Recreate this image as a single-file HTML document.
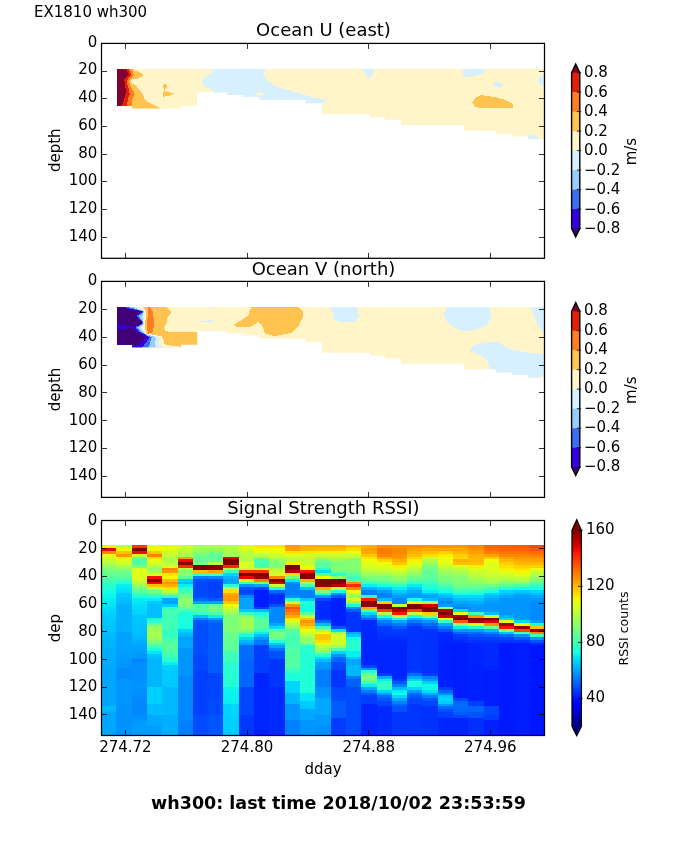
<!DOCTYPE html>
<html lang="en"><head><meta charset="utf-8"><title>EX1810 wh300</title>
<style>
html,body{margin:0;padding:0;background:#fff;}
body{width:675px;height:855px;overflow:hidden;}
svg text{font-family:'DejaVu Sans','Liberation Sans',sans-serif;fill:#000;}
</style></head><body>
<svg width="675" height="855" viewBox="0 0 675 855" style="display:block">
<rect width="675" height="855" fill="#fff"/>
<defs>
<clipPath id="c1"><polygon points="117.0,68.9 544.5,68.9 544.5,139.2 528.2,139.2 528.2,136.4 512.0,136.4 512.0,133.8 496.0,133.8 496.0,130.7 464.0,130.7 464.0,125.2 401.1,125.2 401.1,119.8 384.8,119.8 384.8,117.2 370.1,117.2 370.1,114.2 321.9,114.2 321.9,103.3 306.0,103.3 306.0,100.1 259.3,100.1 259.3,97.0 243.0,97.0 243.0,95.0 227.0,95.0 227.0,92.3 197.2,92.3 197.2,106.1 181.1,106.1 181.1,108.6 132.2,108.6 132.2,106.1 117.0,106.1"/></clipPath>
<clipPath id="c2"><polygon points="117.0,307.0 544.5,307.0 544.5,377.8 528.2,377.8 528.2,375.0 512.0,375.0 512.0,372.4 496.0,372.4 496.0,369.3 464.0,369.3 464.0,363.8 401.1,363.8 401.1,358.4 384.8,358.4 384.8,355.8 370.1,355.8 370.1,352.8 321.9,352.8 321.9,341.9 306.0,341.9 306.0,338.7 259.3,338.7 259.3,335.6 243.0,335.6 243.0,333.6 227.0,333.6 227.0,330.9 197.2,330.9 197.2,344.7 181.1,344.7 181.1,347.2 132.2,347.2 132.2,344.7 117.0,344.7"/></clipPath>
<clipPath id="c3"><rect x="101.5" y="520.5" width="443.0" height="215.0"/></clipPath>
</defs>
<g clip-path="url(#c1)" shape-rendering="crispEdges">
<rect x="110" y="60" width="440" height="90" fill="#fff5c8"/>
<polygon points="207.0,68.9 214.4,71.1 212.2,73.3 206.3,76.3 202.6,79.3 202.1,82.2 203.3,85.2 206.3,87.0 210.0,88.9 213.0,90.4 213.0,91.9 213.0,106.0 321.9,106.0 321.9,103.0 327.0,100.3 327.0,99.3 320.4,98.5 311.5,97.0 299.6,93.3 289.3,90.4 278.9,87.4 273.0,84.4 270.0,82.2 267.0,80.0 265.3,77.8 264.1,74.8 264.4,72.6 266.3,68.9" fill="#d7f0ff" />
<polygon points="255.2,95.1 258.9,91.9 262.9,93.3 262.9,95.1" fill="#fff5c8" />
<polygon points="361.9,68.9 375.9,68.9 369.3,79.0" fill="#d7f0ff" />
<polygon points="462.8,69.0 484.0,69.0 486.0,71.4 479.1,74.7 466.9,77.6 463.3,76.3" fill="#d7f0ff" />
<polygon points="493.0,84.1 497.0,80.9 502.7,84.4 500.3,87.4 494.6,86.9" fill="#d7f0ff" />
<polygon points="545.1,73.0 541.0,76.3 537.8,80.9 541.0,84.4 545.1,88.5" fill="#d7f0ff" />
<polygon points="526.0,135.2 532.7,135.2 536.2,136.2 539.8,138.9 539.8,140.2 528.2,140.2 528.2,136.7" fill="#d7f0ff" />
<polygon points="472.1,102.7 475.0,98.3 480.7,95.0 495.4,97.2 505.2,99.9 512.5,104.0 512.5,107.8 480.7,108.4 475.0,106.4" fill="#ffc450" />
<ellipse cx="165.0" cy="86.4" rx="2.0" ry="2.4" fill="#ffc450"/>
<polygon points="164.2,88.2 165.4,88.2 165.4,92.2 164.2,92.2" fill="#ffc450" />
<polygon points="163.1,92.0 166.2,91.4 169.8,92.3 173.5,93.4 173.5,94.1 170.2,95.3 167.1,96.3 163.1,96.8" fill="#ffc450" />
<polygon points="147.9,85.8 149.0,85.8 149.0,88.8 147.9,88.8" fill="#d7f0ff" />
<polygon points="147.9,92.8 150.0,92.8 150.0,93.9 147.9,93.9" fill="#d7f0ff" />
<polygon points="116.9,68.9 132.9,68.9 136.0,70.9 140.4,72.5 142.9,74.0 142.7,76.2 138.7,78.4 132.0,79.3 130.7,80.7 132.0,83.8 136.0,85.1 137.8,88.7 141.3,91.3 144.0,97.6 144.9,100.2 150.2,102.9 155.6,105.6 160.9,108.4 160.9,111.8 116.9,111.8" fill="#ffc450" />
<polygon points="116.9,68.9 131.1,68.9 132.9,71.8 133.8,74.9 132.0,77.6 129.8,79.3 128.9,81.1 130.2,85.1 132.0,88.7 134.2,92.7 134.7,94.4 132.9,97.6 132.0,101.1 131.7,111.8 116.9,111.8" fill="#ff7d22" />
<polygon points="116.9,68.9 128.4,68.9 130.2,71.8 131.1,74.9 129.3,77.1 126.7,80.7 127.6,85.1 128.9,89.6 129.8,94.0 128.4,97.6 127.6,101.1 126.7,106.0 126.7,111.8 116.9,111.8" fill="#e4200a" />
<polygon points="116.9,68.9 125.8,68.9 126.7,70.9 128.9,74.4 126.7,76.7 124.0,79.8 125.3,85.1 125.8,91.3 125.3,95.8 124.0,99.3 123.1,102.9 120.9,106.0 120.9,111.8 116.9,111.8" fill="#80002f" />
</g>
<g clip-path="url(#c2)" shape-rendering="crispEdges">
<rect x="110" y="298" width="440" height="90" fill="#fff5c8"/>
<polygon points="116.9,306.9 166.7,306.9 170.7,311.1 170.7,313.8 166.7,318.7 166.7,322.2 164.0,328.4 165.3,330.7 168.9,331.8 197.5,331.8 197.5,344.9 180.9,344.9 180.9,347.5 178.7,347.5 178.7,345.8 170.7,345.8 170.7,349.0 116.9,349.0" fill="#ffc450" />
<polygon points="148.0,306.9 149.3,307.1 153.3,311.6 153.8,326.7 152.4,332.9 148.0,333.8 147.1,328.4 147.6,316.0" fill="#ff7d22" />
<polygon points="116.9,306.9 143.1,306.9 145.3,309.8 146.2,314.2 145.3,322.2 145.3,329.3 146.2,333.8 153.8,334.8 161.8,336.4 163.6,340.0 164.4,344.4 170.7,344.9 170.7,348.0 116.9,348.0" fill="#fff5c8" />
<polygon points="116.9,306.9 136.9,306.9 143.1,310.2 144.9,312.0 143.6,316.0 144.0,322.2 142.2,326.7 143.1,330.2 145.8,333.6 154.7,335.6 158.7,337.3 158.7,344.7 162.7,345.8 163.1,348.0 116.9,348.0" fill="#d7f0ff" />
<polygon points="116.9,306.9 132.0,306.9 142.7,310.7 144.0,312.0 142.2,316.4 143.1,321.3 143.6,323.6 139.6,327.6 142.2,331.1 147.6,335.1 153.8,336.4 156.0,338.7 154.7,342.7 156.0,348.0 116.9,348.0" fill="#96cdfa" />
<polygon points="116.9,306.9 128.0,306.9 142.2,310.9 143.3,312.0 138.7,316.2 142.7,321.3 142.9,323.6 137.3,327.4 140.4,331.6 147.6,335.6 151.6,337.3 150.2,341.8 148.9,348.0 116.9,348.0" fill="#3c6ef5" />
<polygon points="116.9,306.9 124.4,306.9 128.4,308.4 142.2,311.1 142.7,311.7 136.4,316.0 142.0,321.2 142.4,323.6 135.3,327.1 138.7,331.1 147.1,336.0 149.3,338.2 144.9,343.6 141.8,348.0 116.9,348.0" fill="#3200e1" />
<polygon points="116.9,306.9 124.0,306.9 128.0,308.9 141.8,311.3 135.1,316.0 141.3,321.1 141.8,323.6 133.3,326.7 120.9,324.9 116.9,321.8" fill="#400078" />
<polygon points="116.9,329.3 125.3,328.6 132.4,328.0 137.8,332.0 146.7,338.2 141.3,340.9 137.8,344.7 116.9,344.7" fill="#400078" />
<polygon points="251.8,306.9 298.0,306.9 302.4,310.4 303.3,315.8 298.9,325.6 291.8,332.7 274.9,336.2 265.1,333.6 262.4,326.4 258.0,322.0 250.0,327.3 236.7,327.3 234.0,324.7 248.2,315.8 250.0,309.6" fill="#ffc450" />
<polygon points="329.8,306.9 356.4,306.9 359.1,315.8 354.7,321.6 338.7,321.6 332.4,318.4 333.3,314.0" fill="#d7f0ff" />
<polygon points="446.9,306.9 487.8,306.9 491.3,314.0 491.3,319.3 485.1,326.4 474.4,330.0 464.7,331.4 454.9,328.2 446.9,322.0 443.3,314.0" fill="#d7f0ff" />
<polygon points="530.4,306.9 545.6,306.9 545.6,336.2 536.7,322.9 533.1,313.1" fill="#d7f0ff" />
<polygon points="470.0,348.7 476.2,344.2 490.4,341.6 498.4,341.6 502.9,345.1 511.8,349.6 529.6,352.8 545.6,354.0 545.6,381.6 489.6,381.6 489.6,368.6 486.9,360.2 479.8,354.9 470.9,351.3" fill="#d7f0ff" />
<polygon points="536.7,378.4 545.6,374.4 545.6,381.6 536.7,381.6" fill="#fff5c8" />
<polygon points="208.0,306.9 213.8,306.9 211.6,308.4" fill="#d7f0ff" />
<polygon points="200.0,321.3 208.0,320.4 213.3,320.4 215.1,321.8 200.0,321.9" fill="#d7f0ff" />
</g>
<g clip-path="url(#c3)" shape-rendering="crispEdges">
<rect x="101" y="545" width="15" height="3" fill="#fdef00"/>
<rect x="101" y="548" width="15" height="3" fill="#eb0300"/>
<rect x="101" y="551" width="15" height="3" fill="#ff8600"/>
<rect x="101" y="554" width="15" height="3" fill="#e4ff13"/>
<rect x="101" y="557" width="15" height="2" fill="#d4ff23"/>
<rect x="101" y="559" width="15" height="3" fill="#c5ff32"/>
<rect x="101" y="562" width="15" height="3" fill="#adff4a"/>
<rect x="101" y="565" width="15" height="3" fill="#92ff65"/>
<rect x="101" y="568" width="15" height="2" fill="#82ff75"/>
<rect x="101" y="570" width="15" height="3" fill="#72ff85"/>
<rect x="101" y="573" width="15" height="3" fill="#64ff93"/>
<rect x="101" y="576" width="15" height="3" fill="#55ffa1"/>
<rect x="101" y="579" width="15" height="3" fill="#47ffb0"/>
<rect x="101" y="582" width="15" height="2" fill="#38ffbf"/>
<rect x="101" y="584" width="15" height="3" fill="#28ffcf"/>
<rect x="101" y="587" width="15" height="3" fill="#1effd9"/>
<rect x="101" y="590" width="15" height="3" fill="#14ffe2"/>
<rect x="101" y="593" width="15" height="2" fill="#10f9e7"/>
<rect x="101" y="595" width="15" height="3" fill="#0cf4eb"/>
<rect x="101" y="598" width="15" height="3" fill="#07efef"/>
<rect x="101" y="601" width="15" height="3" fill="#03e9f4"/>
<rect x="101" y="604" width="15" height="3" fill="#00e4f8"/>
<rect x="101" y="607" width="15" height="2" fill="#00dffc"/>
<rect x="101" y="609" width="15" height="3" fill="#00d7ff"/>
<rect x="101" y="612" width="15" height="3" fill="#00d0ff"/>
<rect x="101" y="615" width="15" height="3" fill="#00ceff"/>
<rect x="101" y="618" width="15" height="2" fill="#00cbff"/>
<rect x="101" y="620" width="15" height="3" fill="#00c8ff"/>
<rect x="101" y="623" width="15" height="3" fill="#00c5ff"/>
<rect x="101" y="626" width="15" height="3" fill="#00c3ff"/>
<rect x="101" y="629" width="15" height="3" fill="#00c0ff"/>
<rect x="101" y="632" width="15" height="2" fill="#00bdff"/>
<rect x="101" y="634" width="15" height="3" fill="#00bbff"/>
<rect x="101" y="637" width="15" height="3" fill="#00b8ff"/>
<rect x="101" y="640" width="15" height="3" fill="#00b5ff"/>
<rect x="101" y="643" width="15" height="2" fill="#00b3ff"/>
<rect x="101" y="645" width="15" height="3" fill="#00b2ff"/>
<rect x="101" y="648" width="15" height="3" fill="#00b0ff"/>
<rect x="101" y="651" width="15" height="3" fill="#00afff"/>
<rect x="101" y="654" width="15" height="3" fill="#00aeff"/>
<rect x="101" y="657" width="15" height="2" fill="#00acff"/>
<rect x="101" y="659" width="15" height="3" fill="#00abff"/>
<rect x="101" y="662" width="15" height="3" fill="#00aaff"/>
<rect x="101" y="665" width="15" height="3" fill="#00a8ff"/>
<rect x="101" y="668" width="15" height="2" fill="#00a7ff"/>
<rect x="101" y="670" width="15" height="36" fill="#00a6ff"/>
<rect x="101" y="706" width="15" height="3" fill="#00bdff"/>
<rect x="101" y="709" width="15" height="3" fill="#00b6ff"/>
<rect x="101" y="712" width="15" height="25" fill="#00a6ff"/>
<rect x="116" y="545" width="16" height="3" fill="#bfff38"/>
<rect x="116" y="548" width="16" height="3" fill="#f6f600"/>
<rect x="116" y="551" width="16" height="3" fill="#ffc000"/>
<rect x="116" y="554" width="16" height="3" fill="#ff9400"/>
<rect x="116" y="557" width="16" height="2" fill="#fdef00"/>
<rect x="116" y="559" width="16" height="3" fill="#d7ff20"/>
<rect x="116" y="562" width="16" height="3" fill="#d1ff26"/>
<rect x="116" y="565" width="16" height="3" fill="#a6ff51"/>
<rect x="116" y="568" width="16" height="2" fill="#8cff6b"/>
<rect x="116" y="570" width="16" height="3" fill="#72ff85"/>
<rect x="116" y="573" width="16" height="3" fill="#66ff91"/>
<rect x="116" y="576" width="16" height="3" fill="#59ff9d"/>
<rect x="116" y="579" width="16" height="3" fill="#3bffbc"/>
<rect x="116" y="582" width="16" height="2" fill="#21ffd6"/>
<rect x="116" y="584" width="16" height="3" fill="#07efef"/>
<rect x="116" y="587" width="16" height="3" fill="#01e7f6"/>
<rect x="116" y="590" width="16" height="3" fill="#00dffc"/>
<rect x="116" y="593" width="16" height="2" fill="#00caff"/>
<rect x="116" y="595" width="16" height="3" fill="#00c5ff"/>
<rect x="116" y="598" width="16" height="3" fill="#00c1ff"/>
<rect x="116" y="601" width="16" height="3" fill="#00bdff"/>
<rect x="116" y="604" width="16" height="28" fill="#00b0ff"/>
<rect x="116" y="632" width="16" height="22" fill="#00a2ff"/>
<rect x="116" y="654" width="16" height="3" fill="#009eff"/>
<rect x="116" y="657" width="16" height="2" fill="#0099ff"/>
<rect x="116" y="659" width="16" height="3" fill="#0098ff"/>
<rect x="116" y="662" width="16" height="3" fill="#0096ff"/>
<rect x="116" y="665" width="16" height="3" fill="#0095ff"/>
<rect x="116" y="668" width="16" height="11" fill="#008bff"/>
<rect x="116" y="679" width="16" height="14" fill="#0095ff"/>
<rect x="116" y="693" width="16" height="16" fill="#0094ff"/>
<rect x="116" y="709" width="16" height="17" fill="#0093ff"/>
<rect x="116" y="726" width="16" height="11" fill="#0092ff"/>
<rect x="132" y="545" width="15" height="3" fill="#ff3500"/>
<rect x="132" y="548" width="15" height="3" fill="#800000"/>
<rect x="132" y="551" width="15" height="3" fill="#f30900"/>
<rect x="132" y="554" width="15" height="3" fill="#bfff38"/>
<rect x="132" y="557" width="15" height="2" fill="#60ff97"/>
<rect x="132" y="559" width="15" height="6" fill="#4dffaa"/>
<rect x="132" y="565" width="15" height="3" fill="#7eff78"/>
<rect x="132" y="568" width="15" height="2" fill="#d7ff20"/>
<rect x="132" y="570" width="15" height="9" fill="#ddff19"/>
<rect x="132" y="579" width="15" height="3" fill="#d1ff26"/>
<rect x="132" y="582" width="15" height="2" fill="#b9ff3e"/>
<rect x="132" y="584" width="15" height="3" fill="#99ff5e"/>
<rect x="132" y="587" width="15" height="3" fill="#78ff7f"/>
<rect x="132" y="590" width="15" height="3" fill="#56ffa0"/>
<rect x="132" y="593" width="15" height="2" fill="#34ffc2"/>
<rect x="132" y="595" width="15" height="3" fill="#1effd9"/>
<rect x="132" y="598" width="15" height="3" fill="#07efef"/>
<rect x="132" y="601" width="15" height="3" fill="#01e7f6"/>
<rect x="132" y="604" width="15" height="3" fill="#00dffc"/>
<rect x="132" y="607" width="15" height="2" fill="#00dbff"/>
<rect x="132" y="609" width="15" height="3" fill="#00d7ff"/>
<rect x="132" y="612" width="15" height="3" fill="#00d4ff"/>
<rect x="132" y="615" width="15" height="3" fill="#00c7ff"/>
<rect x="132" y="618" width="15" height="2" fill="#00c5ff"/>
<rect x="132" y="620" width="15" height="3" fill="#00c4ff"/>
<rect x="132" y="623" width="15" height="3" fill="#00c2ff"/>
<rect x="132" y="626" width="15" height="3" fill="#00c1ff"/>
<rect x="132" y="629" width="15" height="3" fill="#00c0ff"/>
<rect x="132" y="632" width="15" height="2" fill="#00beff"/>
<rect x="132" y="634" width="15" height="3" fill="#00bdff"/>
<rect x="132" y="637" width="15" height="3" fill="#00b6ff"/>
<rect x="132" y="640" width="15" height="3" fill="#00b0ff"/>
<rect x="132" y="643" width="15" height="2" fill="#00a9ff"/>
<rect x="132" y="645" width="15" height="3" fill="#00a5ff"/>
<rect x="132" y="648" width="15" height="3" fill="#00a1ff"/>
<rect x="132" y="651" width="15" height="3" fill="#009dff"/>
<rect x="132" y="654" width="15" height="3" fill="#0099ff"/>
<rect x="132" y="657" width="15" height="2" fill="#0095ff"/>
<rect x="132" y="659" width="15" height="3" fill="#0081ff"/>
<rect x="132" y="662" width="15" height="17" fill="#008fff"/>
<rect x="132" y="679" width="15" height="2" fill="#0091ff"/>
<rect x="132" y="681" width="15" height="3" fill="#0093ff"/>
<rect x="132" y="684" width="15" height="3" fill="#0095ff"/>
<rect x="132" y="687" width="15" height="3" fill="#0093ff"/>
<rect x="132" y="690" width="15" height="3" fill="#0090ff"/>
<rect x="132" y="693" width="15" height="2" fill="#008dff"/>
<rect x="132" y="695" width="15" height="3" fill="#008bff"/>
<rect x="132" y="698" width="15" height="17" fill="#0088ff"/>
<rect x="132" y="715" width="15" height="3" fill="#008dff"/>
<rect x="132" y="718" width="15" height="2" fill="#0092ff"/>
<rect x="132" y="720" width="15" height="3" fill="#0097ff"/>
<rect x="132" y="723" width="15" height="14" fill="#009cff"/>
<rect x="147" y="545" width="15" height="3" fill="#e4ff13"/>
<rect x="147" y="548" width="15" height="3" fill="#f6f600"/>
<rect x="147" y="551" width="15" height="3" fill="#ffc700"/>
<rect x="147" y="554" width="15" height="3" fill="#ff8000"/>
<rect x="147" y="557" width="15" height="2" fill="#ffd700"/>
<rect x="147" y="559" width="15" height="3" fill="#eaff0d"/>
<rect x="147" y="562" width="15" height="3" fill="#d1ff26"/>
<rect x="147" y="565" width="15" height="3" fill="#b3ff44"/>
<rect x="147" y="568" width="15" height="2" fill="#8cff6b"/>
<rect x="147" y="570" width="15" height="3" fill="#9fff57"/>
<rect x="147" y="573" width="15" height="3" fill="#d7ff20"/>
<rect x="147" y="576" width="15" height="3" fill="#fa0f00"/>
<rect x="147" y="579" width="15" height="3" fill="#800000"/>
<rect x="147" y="582" width="15" height="2" fill="#f30900"/>
<rect x="147" y="584" width="15" height="3" fill="#ffc000"/>
<rect x="147" y="587" width="15" height="3" fill="#bfff38"/>
<rect x="147" y="590" width="15" height="3" fill="#78ff7f"/>
<rect x="147" y="593" width="15" height="2" fill="#4dffaa"/>
<rect x="147" y="595" width="15" height="3" fill="#28ffcf"/>
<rect x="147" y="598" width="15" height="3" fill="#07efef"/>
<rect x="147" y="601" width="15" height="3" fill="#00caff"/>
<rect x="147" y="604" width="15" height="3" fill="#00c0ff"/>
<rect x="147" y="607" width="15" height="2" fill="#00bfff"/>
<rect x="147" y="609" width="15" height="6" fill="#00beff"/>
<rect x="147" y="615" width="15" height="3" fill="#00bdff"/>
<rect x="147" y="618" width="15" height="2" fill="#14ffe2"/>
<rect x="147" y="620" width="15" height="3" fill="#34ffc2"/>
<rect x="147" y="623" width="15" height="3" fill="#6cff8b"/>
<rect x="147" y="626" width="15" height="3" fill="#99ff5e"/>
<rect x="147" y="629" width="15" height="3" fill="#9fff57"/>
<rect x="147" y="632" width="15" height="2" fill="#a6ff51"/>
<rect x="147" y="634" width="15" height="3" fill="#a3ff54"/>
<rect x="147" y="637" width="15" height="3" fill="#9fff57"/>
<rect x="147" y="640" width="15" height="3" fill="#7eff78"/>
<rect x="147" y="643" width="15" height="2" fill="#66ff91"/>
<rect x="147" y="645" width="15" height="3" fill="#3bffbc"/>
<rect x="147" y="648" width="15" height="3" fill="#1bffdc"/>
<rect x="147" y="651" width="15" height="3" fill="#01e7f6"/>
<rect x="147" y="654" width="15" height="3" fill="#00c3ff"/>
<rect x="147" y="657" width="15" height="2" fill="#00bdff"/>
<rect x="147" y="659" width="15" height="28" fill="#00b6ff"/>
<rect x="147" y="687" width="15" height="17" fill="#00d0ff"/>
<rect x="147" y="704" width="15" height="11" fill="#00bdff"/>
<rect x="147" y="715" width="15" height="11" fill="#00a9ff"/>
<rect x="147" y="726" width="15" height="11" fill="#009cff"/>
<rect x="162" y="545" width="16" height="3" fill="#ddff19"/>
<rect x="162" y="548" width="16" height="3" fill="#e4ff13"/>
<rect x="162" y="551" width="16" height="3" fill="#cbff2c"/>
<rect x="162" y="554" width="16" height="3" fill="#bfff38"/>
<rect x="162" y="557" width="16" height="5" fill="#adff4a"/>
<rect x="162" y="562" width="16" height="3" fill="#b9ff3e"/>
<rect x="162" y="565" width="16" height="3" fill="#d7ff20"/>
<rect x="162" y="568" width="16" height="2" fill="#ff8600"/>
<rect x="162" y="570" width="16" height="3" fill="#ff9400"/>
<rect x="162" y="573" width="16" height="3" fill="#ffe700"/>
<rect x="162" y="576" width="16" height="3" fill="#f6f600"/>
<rect x="162" y="579" width="16" height="3" fill="#ffb800"/>
<rect x="162" y="582" width="16" height="2" fill="#ff9400"/>
<rect x="162" y="584" width="16" height="3" fill="#ffb100"/>
<rect x="162" y="587" width="16" height="3" fill="#ffe700"/>
<rect x="162" y="590" width="16" height="3" fill="#bfff38"/>
<rect x="162" y="593" width="16" height="2" fill="#78ff7f"/>
<rect x="162" y="595" width="16" height="3" fill="#28ffcf"/>
<rect x="162" y="598" width="16" height="3" fill="#00a9ff"/>
<rect x="162" y="601" width="16" height="3" fill="#00a2ff"/>
<rect x="162" y="604" width="16" height="3" fill="#00d0ff"/>
<rect x="162" y="607" width="16" height="2" fill="#28ffcf"/>
<rect x="162" y="609" width="16" height="6" fill="#47ffb0"/>
<rect x="162" y="615" width="16" height="14" fill="#41ffb6"/>
<rect x="162" y="629" width="16" height="8" fill="#34ffc2"/>
<rect x="162" y="637" width="16" height="3" fill="#47ffb0"/>
<rect x="162" y="640" width="16" height="3" fill="#4dffaa"/>
<rect x="162" y="643" width="16" height="8" fill="#59ff9d"/>
<rect x="162" y="651" width="16" height="6" fill="#47ffb0"/>
<rect x="162" y="657" width="16" height="5" fill="#28ffcf"/>
<rect x="162" y="662" width="16" height="3" fill="#07efef"/>
<rect x="162" y="665" width="16" height="5" fill="#00d0ff"/>
<rect x="162" y="670" width="16" height="17" fill="#00caff"/>
<rect x="162" y="687" width="16" height="28" fill="#00b9ff"/>
<rect x="162" y="715" width="16" height="22" fill="#00b0ff"/>
<rect x="178" y="545" width="15" height="3" fill="#cbff2c"/>
<rect x="178" y="548" width="15" height="3" fill="#bfff38"/>
<rect x="178" y="551" width="15" height="3" fill="#b3ff44"/>
<rect x="178" y="554" width="15" height="3" fill="#a6ff51"/>
<rect x="178" y="557" width="15" height="2" fill="#ffa200"/>
<rect x="178" y="559" width="15" height="3" fill="#f30900"/>
<rect x="178" y="562" width="15" height="3" fill="#900000"/>
<rect x="178" y="565" width="15" height="3" fill="#ff2a00"/>
<rect x="178" y="568" width="15" height="2" fill="#b3ff44"/>
<rect x="178" y="570" width="15" height="3" fill="#7eff78"/>
<rect x="178" y="573" width="15" height="3" fill="#8cff6b"/>
<rect x="178" y="576" width="15" height="3" fill="#59ff9d"/>
<rect x="178" y="579" width="15" height="3" fill="#00d7ff"/>
<rect x="178" y="582" width="15" height="2" fill="#00bdff"/>
<rect x="178" y="584" width="15" height="3" fill="#07efef"/>
<rect x="178" y="587" width="15" height="3" fill="#28ffcf"/>
<rect x="178" y="590" width="15" height="3" fill="#47ffb0"/>
<rect x="178" y="593" width="15" height="2" fill="#60ff97"/>
<rect x="178" y="595" width="15" height="3" fill="#72ff85"/>
<rect x="178" y="598" width="15" height="6" fill="#8cff6b"/>
<rect x="178" y="604" width="15" height="3" fill="#85ff72"/>
<rect x="178" y="607" width="15" height="2" fill="#6cff8b"/>
<rect x="178" y="609" width="15" height="3" fill="#41ffb6"/>
<rect x="178" y="612" width="15" height="11" fill="#1bffdc"/>
<rect x="178" y="623" width="15" height="6" fill="#14ffe2"/>
<rect x="178" y="629" width="15" height="3" fill="#00d7ff"/>
<rect x="178" y="632" width="15" height="2" fill="#00c3ff"/>
<rect x="178" y="634" width="15" height="3" fill="#00b6ff"/>
<rect x="178" y="637" width="15" height="3" fill="#00a2ff"/>
<rect x="178" y="640" width="15" height="3" fill="#00a6ff"/>
<rect x="178" y="643" width="15" height="5" fill="#00a9ff"/>
<rect x="178" y="648" width="15" height="28" fill="#0095ff"/>
<rect x="178" y="676" width="15" height="44" fill="#0088ff"/>
<rect x="178" y="720" width="15" height="3" fill="#0083ff"/>
<rect x="178" y="723" width="15" height="14" fill="#007eff"/>
<rect x="193" y="545" width="15" height="3" fill="#adff4a"/>
<rect x="193" y="548" width="15" height="3" fill="#99ff5e"/>
<rect x="193" y="551" width="15" height="3" fill="#85ff72"/>
<rect x="193" y="554" width="15" height="3" fill="#72ff85"/>
<rect x="193" y="557" width="15" height="5" fill="#60ff97"/>
<rect x="193" y="562" width="15" height="3" fill="#78ff7f"/>
<rect x="193" y="565" width="15" height="5" fill="#800000"/>
<rect x="193" y="570" width="15" height="3" fill="#ffc000"/>
<rect x="193" y="573" width="15" height="3" fill="#3bffbc"/>
<rect x="193" y="576" width="15" height="3" fill="#0081ff"/>
<rect x="193" y="579" width="15" height="3" fill="#004fff"/>
<rect x="193" y="582" width="15" height="13" fill="#0048ff"/>
<rect x="193" y="595" width="15" height="3" fill="#004fff"/>
<rect x="193" y="598" width="15" height="3" fill="#0066ff"/>
<rect x="193" y="601" width="15" height="3" fill="#00a2ff"/>
<rect x="193" y="604" width="15" height="3" fill="#47ffb0"/>
<rect x="193" y="607" width="15" height="2" fill="#59ff9d"/>
<rect x="193" y="609" width="15" height="3" fill="#4dffaa"/>
<rect x="193" y="612" width="15" height="3" fill="#34ffc2"/>
<rect x="193" y="615" width="15" height="3" fill="#00c3ff"/>
<rect x="193" y="618" width="15" height="2" fill="#0081ff"/>
<rect x="193" y="620" width="15" height="3" fill="#0059ff"/>
<rect x="193" y="623" width="15" height="31" fill="#004fff"/>
<rect x="193" y="654" width="15" height="16" fill="#0048ff"/>
<rect x="193" y="670" width="15" height="45" fill="#0041ff"/>
<rect x="193" y="715" width="15" height="22" fill="#004bff"/>
<rect x="208" y="545" width="15" height="3" fill="#adff4a"/>
<rect x="208" y="548" width="15" height="3" fill="#8cff6b"/>
<rect x="208" y="551" width="15" height="3" fill="#72ff85"/>
<rect x="208" y="554" width="15" height="8" fill="#60ff97"/>
<rect x="208" y="562" width="15" height="3" fill="#b3ff44"/>
<rect x="208" y="565" width="15" height="3" fill="#800000"/>
<rect x="208" y="568" width="15" height="2" fill="#900000"/>
<rect x="208" y="570" width="15" height="3" fill="#ffa200"/>
<rect x="208" y="573" width="15" height="3" fill="#47ffb0"/>
<rect x="208" y="576" width="15" height="3" fill="#0088ff"/>
<rect x="208" y="579" width="15" height="3" fill="#0048ff"/>
<rect x="208" y="582" width="15" height="16" fill="#0041ff"/>
<rect x="208" y="598" width="15" height="3" fill="#0059ff"/>
<rect x="208" y="601" width="15" height="3" fill="#00a2ff"/>
<rect x="208" y="604" width="15" height="3" fill="#60ff97"/>
<rect x="208" y="607" width="15" height="5" fill="#72ff85"/>
<rect x="208" y="612" width="15" height="3" fill="#4dffaa"/>
<rect x="208" y="615" width="15" height="3" fill="#07efef"/>
<rect x="208" y="618" width="15" height="2" fill="#009cff"/>
<rect x="208" y="620" width="15" height="3" fill="#006dff"/>
<rect x="208" y="623" width="15" height="50" fill="#005cff"/>
<rect x="208" y="673" width="15" height="28" fill="#0045ff"/>
<rect x="208" y="701" width="15" height="14" fill="#004bff"/>
<rect x="208" y="715" width="15" height="22" fill="#0055ff"/>
<rect x="223" y="545" width="16" height="6" fill="#b3ff44"/>
<rect x="223" y="551" width="16" height="6" fill="#9fff57"/>
<rect x="223" y="557" width="16" height="2" fill="#e30000"/>
<rect x="223" y="559" width="16" height="6" fill="#800000"/>
<rect x="223" y="565" width="16" height="3" fill="#ff2a00"/>
<rect x="223" y="568" width="16" height="2" fill="#b3ff44"/>
<rect x="223" y="570" width="16" height="3" fill="#3bffbc"/>
<rect x="223" y="573" width="16" height="3" fill="#00d7ff"/>
<rect x="223" y="576" width="16" height="3" fill="#00b6ff"/>
<rect x="223" y="579" width="16" height="3" fill="#00a2ff"/>
<rect x="223" y="582" width="16" height="2" fill="#00a9ff"/>
<rect x="223" y="584" width="16" height="3" fill="#28ffcf"/>
<rect x="223" y="587" width="16" height="3" fill="#b3ff44"/>
<rect x="223" y="590" width="16" height="3" fill="#ffdf00"/>
<rect x="223" y="593" width="16" height="2" fill="#ffaa00"/>
<rect x="223" y="595" width="16" height="6" fill="#ff9b00"/>
<rect x="223" y="601" width="16" height="3" fill="#ffc700"/>
<rect x="223" y="604" width="16" height="3" fill="#eaff0d"/>
<rect x="223" y="607" width="16" height="2" fill="#d1ff26"/>
<rect x="223" y="609" width="16" height="3" fill="#b3ff44"/>
<rect x="223" y="612" width="16" height="3" fill="#99ff5e"/>
<rect x="223" y="615" width="16" height="17" fill="#7eff78"/>
<rect x="223" y="632" width="16" height="2" fill="#6cff8b"/>
<rect x="223" y="634" width="16" height="3" fill="#69ff8e"/>
<rect x="223" y="637" width="16" height="3" fill="#66ff91"/>
<rect x="223" y="640" width="16" height="3" fill="#63ff94"/>
<rect x="223" y="643" width="16" height="8" fill="#60ff97"/>
<rect x="223" y="651" width="16" height="3" fill="#41ffb6"/>
<rect x="223" y="654" width="16" height="3" fill="#3fffb8"/>
<rect x="223" y="657" width="16" height="2" fill="#3dffba"/>
<rect x="223" y="659" width="16" height="3" fill="#3bffbc"/>
<rect x="223" y="662" width="16" height="3" fill="#28ffcf"/>
<rect x="223" y="665" width="16" height="3" fill="#27ffd0"/>
<rect x="223" y="668" width="16" height="2" fill="#26ffd1"/>
<rect x="223" y="670" width="16" height="3" fill="#25ffd2"/>
<rect x="223" y="673" width="16" height="3" fill="#24ffd2"/>
<rect x="223" y="676" width="16" height="3" fill="#24ffd3"/>
<rect x="223" y="679" width="16" height="2" fill="#23ffd4"/>
<rect x="223" y="681" width="16" height="3" fill="#22ffd5"/>
<rect x="223" y="684" width="16" height="3" fill="#21ffd6"/>
<rect x="223" y="687" width="16" height="3" fill="#0ef7e9"/>
<rect x="223" y="690" width="16" height="3" fill="#0df5ea"/>
<rect x="223" y="693" width="16" height="2" fill="#0bf4eb"/>
<rect x="223" y="695" width="16" height="3" fill="#0af2ed"/>
<rect x="223" y="698" width="16" height="3" fill="#09f0ee"/>
<rect x="223" y="701" width="16" height="3" fill="#07efef"/>
<rect x="223" y="704" width="16" height="2" fill="#00d7ff"/>
<rect x="223" y="706" width="16" height="3" fill="#00d6ff"/>
<rect x="223" y="709" width="16" height="3" fill="#00d5ff"/>
<rect x="223" y="712" width="16" height="3" fill="#00d4ff"/>
<rect x="223" y="715" width="16" height="3" fill="#00d3ff"/>
<rect x="223" y="718" width="16" height="2" fill="#00d2ff"/>
<rect x="223" y="720" width="16" height="3" fill="#00d1ff"/>
<rect x="223" y="723" width="16" height="3" fill="#00d0ff"/>
<rect x="223" y="726" width="16" height="3" fill="#00cfff"/>
<rect x="223" y="729" width="16" height="2" fill="#00ceff"/>
<rect x="223" y="731" width="16" height="6" fill="#00cdff"/>
<rect x="239" y="545" width="15" height="3" fill="#ddff19"/>
<rect x="239" y="548" width="15" height="3" fill="#d1ff26"/>
<rect x="239" y="551" width="15" height="3" fill="#bfff38"/>
<rect x="239" y="554" width="15" height="8" fill="#b3ff44"/>
<rect x="239" y="562" width="15" height="3" fill="#ddff19"/>
<rect x="239" y="565" width="15" height="3" fill="#d7ff20"/>
<rect x="239" y="568" width="15" height="2" fill="#bfff38"/>
<rect x="239" y="570" width="15" height="3" fill="#ff3500"/>
<rect x="239" y="573" width="15" height="3" fill="#800000"/>
<rect x="239" y="576" width="15" height="3" fill="#eb0300"/>
<rect x="239" y="579" width="15" height="3" fill="#fdef00"/>
<rect x="239" y="582" width="15" height="2" fill="#47ffb0"/>
<rect x="239" y="584" width="15" height="3" fill="#0095ff"/>
<rect x="239" y="587" width="15" height="3" fill="#0052ff"/>
<rect x="239" y="590" width="15" height="3" fill="#0045ff"/>
<rect x="239" y="593" width="15" height="2" fill="#0052ff"/>
<rect x="239" y="595" width="15" height="3" fill="#0088ff"/>
<rect x="239" y="598" width="15" height="11" fill="#00a2ff"/>
<rect x="239" y="609" width="15" height="3" fill="#00caff"/>
<rect x="239" y="612" width="15" height="3" fill="#3bffbc"/>
<rect x="239" y="615" width="15" height="3" fill="#8cff6b"/>
<rect x="239" y="618" width="15" height="11" fill="#9fff57"/>
<rect x="239" y="629" width="15" height="3" fill="#85ff72"/>
<rect x="239" y="632" width="15" height="2" fill="#59ff9d"/>
<rect x="239" y="634" width="15" height="3" fill="#1bffdc"/>
<rect x="239" y="637" width="15" height="3" fill="#00d7ff"/>
<rect x="239" y="640" width="15" height="3" fill="#00b6ff"/>
<rect x="239" y="643" width="15" height="2" fill="#00a2ff"/>
<rect x="239" y="645" width="15" height="14" fill="#006dff"/>
<rect x="239" y="659" width="15" height="28" fill="#0066ff"/>
<rect x="239" y="687" width="15" height="28" fill="#0045ff"/>
<rect x="239" y="715" width="15" height="22" fill="#0037ff"/>
<rect x="254" y="545" width="15" height="3" fill="#ffe700"/>
<rect x="254" y="548" width="15" height="3" fill="#f6f600"/>
<rect x="254" y="551" width="15" height="3" fill="#ddff19"/>
<rect x="254" y="554" width="15" height="3" fill="#bfff38"/>
<rect x="254" y="557" width="15" height="2" fill="#72ff85"/>
<rect x="254" y="559" width="15" height="6" fill="#47ffb0"/>
<rect x="254" y="565" width="15" height="3" fill="#4dffaa"/>
<rect x="254" y="568" width="15" height="2" fill="#bfff38"/>
<rect x="254" y="570" width="15" height="3" fill="#ff3500"/>
<rect x="254" y="573" width="15" height="3" fill="#800000"/>
<rect x="254" y="576" width="15" height="3" fill="#980000"/>
<rect x="254" y="579" width="15" height="3" fill="#ff8000"/>
<rect x="254" y="582" width="15" height="2" fill="#7eff78"/>
<rect x="254" y="584" width="15" height="3" fill="#00a9ff"/>
<rect x="254" y="587" width="15" height="3" fill="#0045ff"/>
<rect x="254" y="590" width="15" height="17" fill="#001dff"/>
<rect x="254" y="607" width="15" height="2" fill="#003eff"/>
<rect x="254" y="609" width="15" height="3" fill="#00bdff"/>
<rect x="254" y="612" width="15" height="3" fill="#1bffdc"/>
<rect x="254" y="615" width="15" height="3" fill="#3bffbc"/>
<rect x="254" y="618" width="15" height="11" fill="#59ff9d"/>
<rect x="254" y="629" width="15" height="3" fill="#3bffbc"/>
<rect x="254" y="632" width="15" height="2" fill="#07efef"/>
<rect x="254" y="634" width="15" height="3" fill="#00bdff"/>
<rect x="254" y="637" width="15" height="3" fill="#0095ff"/>
<rect x="254" y="640" width="15" height="5" fill="#007aff"/>
<rect x="254" y="645" width="15" height="28" fill="#003eff"/>
<rect x="254" y="673" width="15" height="58" fill="#0024ff"/>
<rect x="254" y="731" width="15" height="6" fill="#001dff"/>
<rect x="269" y="545" width="16" height="3" fill="#ffe700"/>
<rect x="269" y="548" width="16" height="3" fill="#f0fd07"/>
<rect x="269" y="551" width="16" height="3" fill="#ddff19"/>
<rect x="269" y="554" width="16" height="3" fill="#cbff2c"/>
<rect x="269" y="557" width="16" height="2" fill="#b3ff44"/>
<rect x="269" y="559" width="16" height="3" fill="#8cff6b"/>
<rect x="269" y="562" width="16" height="6" fill="#7eff78"/>
<rect x="269" y="568" width="16" height="2" fill="#b3ff44"/>
<rect x="269" y="570" width="16" height="3" fill="#cbff2c"/>
<rect x="269" y="573" width="16" height="3" fill="#d1ff26"/>
<rect x="269" y="576" width="16" height="3" fill="#ff8600"/>
<rect x="269" y="579" width="16" height="3" fill="#800000"/>
<rect x="269" y="582" width="16" height="2" fill="#d20000"/>
<rect x="269" y="584" width="16" height="3" fill="#cbff2c"/>
<rect x="269" y="587" width="16" height="3" fill="#1bffdc"/>
<rect x="269" y="590" width="16" height="3" fill="#006dff"/>
<rect x="269" y="593" width="16" height="2" fill="#003eff"/>
<rect x="269" y="595" width="16" height="9" fill="#002aff"/>
<rect x="269" y="604" width="16" height="3" fill="#0052ff"/>
<rect x="269" y="607" width="16" height="16" fill="#0088ff"/>
<rect x="269" y="623" width="16" height="3" fill="#00a9ff"/>
<rect x="269" y="626" width="16" height="3" fill="#00dffc"/>
<rect x="269" y="629" width="16" height="3" fill="#4dffaa"/>
<rect x="269" y="632" width="16" height="5" fill="#78ff7f"/>
<rect x="269" y="637" width="16" height="3" fill="#60ff97"/>
<rect x="269" y="640" width="16" height="3" fill="#28ffcf"/>
<rect x="269" y="643" width="16" height="2" fill="#00d0ff"/>
<rect x="269" y="645" width="16" height="3" fill="#00a2ff"/>
<rect x="269" y="648" width="16" height="3" fill="#0074ff"/>
<rect x="269" y="651" width="16" height="8" fill="#0052ff"/>
<rect x="269" y="659" width="16" height="28" fill="#0034ff"/>
<rect x="269" y="687" width="16" height="50" fill="#002aff"/>
<rect x="285" y="545" width="15" height="3" fill="#ff9b00"/>
<rect x="285" y="548" width="15" height="3" fill="#ffa200"/>
<rect x="285" y="551" width="15" height="3" fill="#ffe700"/>
<rect x="285" y="554" width="15" height="3" fill="#ddff19"/>
<rect x="285" y="557" width="15" height="2" fill="#bfff38"/>
<rect x="285" y="559" width="15" height="3" fill="#b3ff44"/>
<rect x="285" y="562" width="15" height="3" fill="#ffe700"/>
<rect x="285" y="565" width="15" height="5" fill="#800000"/>
<rect x="285" y="570" width="15" height="3" fill="#b90000"/>
<rect x="285" y="573" width="15" height="3" fill="#ffdf00"/>
<rect x="285" y="576" width="15" height="3" fill="#7eff78"/>
<rect x="285" y="579" width="15" height="3" fill="#07efef"/>
<rect x="285" y="582" width="15" height="2" fill="#0095ff"/>
<rect x="285" y="584" width="15" height="11" fill="#0081ff"/>
<rect x="285" y="595" width="15" height="3" fill="#0095ff"/>
<rect x="285" y="598" width="15" height="3" fill="#28ffcf"/>
<rect x="285" y="601" width="15" height="3" fill="#cbff2c"/>
<rect x="285" y="604" width="15" height="3" fill="#ff9400"/>
<rect x="285" y="607" width="15" height="2" fill="#ff5200"/>
<rect x="285" y="609" width="15" height="3" fill="#ff6e00"/>
<rect x="285" y="612" width="15" height="3" fill="#ff8600"/>
<rect x="285" y="615" width="15" height="3" fill="#ffaa00"/>
<rect x="285" y="618" width="15" height="2" fill="#ffe700"/>
<rect x="285" y="620" width="15" height="3" fill="#ddff19"/>
<rect x="285" y="623" width="15" height="3" fill="#b3ff44"/>
<rect x="285" y="626" width="15" height="3" fill="#8cff6b"/>
<rect x="285" y="629" width="15" height="3" fill="#59ff9d"/>
<rect x="285" y="632" width="15" height="2" fill="#50ffa7"/>
<rect x="285" y="634" width="15" height="14" fill="#47ffb0"/>
<rect x="285" y="648" width="15" height="3" fill="#4dffaa"/>
<rect x="285" y="651" width="15" height="17" fill="#53ffa3"/>
<rect x="285" y="668" width="15" height="5" fill="#3bffbc"/>
<rect x="285" y="673" width="15" height="8" fill="#1bffdc"/>
<rect x="285" y="681" width="15" height="12" fill="#00d7ff"/>
<rect x="285" y="693" width="15" height="11" fill="#00b6ff"/>
<rect x="285" y="704" width="15" height="16" fill="#0095ff"/>
<rect x="285" y="720" width="15" height="17" fill="#0081ff"/>
<rect x="300" y="545" width="15" height="3" fill="#ffb100"/>
<rect x="300" y="548" width="15" height="3" fill="#ffb800"/>
<rect x="300" y="551" width="15" height="3" fill="#ffe700"/>
<rect x="300" y="554" width="15" height="3" fill="#d1ff26"/>
<rect x="300" y="557" width="15" height="5" fill="#bfff38"/>
<rect x="300" y="562" width="15" height="3" fill="#c5ff32"/>
<rect x="300" y="565" width="15" height="3" fill="#e4ff13"/>
<rect x="300" y="568" width="15" height="2" fill="#fdef00"/>
<rect x="300" y="570" width="15" height="3" fill="#ff1400"/>
<rect x="300" y="573" width="15" height="6" fill="#800000"/>
<rect x="300" y="579" width="15" height="3" fill="#ffb100"/>
<rect x="300" y="582" width="15" height="2" fill="#9fff57"/>
<rect x="300" y="584" width="15" height="3" fill="#47ffb0"/>
<rect x="300" y="587" width="15" height="3" fill="#00c3ff"/>
<rect x="300" y="590" width="15" height="8" fill="#0081ff"/>
<rect x="300" y="598" width="15" height="3" fill="#00caff"/>
<rect x="300" y="601" width="15" height="3" fill="#1bffdc"/>
<rect x="300" y="604" width="15" height="8" fill="#14ffe2"/>
<rect x="300" y="612" width="15" height="3" fill="#59ff9d"/>
<rect x="300" y="615" width="15" height="3" fill="#cbff2c"/>
<rect x="300" y="618" width="15" height="2" fill="#ffc000"/>
<rect x="300" y="620" width="15" height="3" fill="#ff9400"/>
<rect x="300" y="623" width="15" height="3" fill="#ffaa00"/>
<rect x="300" y="626" width="15" height="3" fill="#ffd700"/>
<rect x="300" y="629" width="15" height="3" fill="#eaff0d"/>
<rect x="300" y="632" width="15" height="2" fill="#d1ff26"/>
<rect x="300" y="634" width="15" height="3" fill="#b3ff44"/>
<rect x="300" y="637" width="15" height="6" fill="#92ff65"/>
<rect x="300" y="643" width="15" height="2" fill="#6cff8b"/>
<rect x="300" y="645" width="15" height="9" fill="#28ffcf"/>
<rect x="300" y="654" width="15" height="39" fill="#21ffd6"/>
<rect x="300" y="693" width="15" height="8" fill="#01e7f6"/>
<rect x="300" y="701" width="15" height="8" fill="#00caff"/>
<rect x="300" y="709" width="15" height="11" fill="#00a9ff"/>
<rect x="300" y="720" width="15" height="17" fill="#0095ff"/>
<rect x="315" y="545" width="16" height="3" fill="#ffb100"/>
<rect x="315" y="548" width="16" height="3" fill="#ffc000"/>
<rect x="315" y="551" width="16" height="3" fill="#fdef00"/>
<rect x="315" y="554" width="16" height="3" fill="#cbff2c"/>
<rect x="315" y="557" width="16" height="2" fill="#9fff57"/>
<rect x="315" y="559" width="16" height="3" fill="#72ff85"/>
<rect x="315" y="562" width="16" height="6" fill="#59ff9d"/>
<rect x="315" y="568" width="16" height="2" fill="#28ffcf"/>
<rect x="315" y="570" width="16" height="3" fill="#00dffc"/>
<rect x="315" y="573" width="16" height="3" fill="#59ff9d"/>
<rect x="315" y="576" width="16" height="3" fill="#eaff0d"/>
<rect x="315" y="579" width="16" height="5" fill="#800000"/>
<rect x="315" y="584" width="16" height="3" fill="#900000"/>
<rect x="315" y="587" width="16" height="3" fill="#ffb100"/>
<rect x="315" y="590" width="16" height="3" fill="#7eff78"/>
<rect x="315" y="593" width="16" height="2" fill="#1bffdc"/>
<rect x="315" y="595" width="16" height="3" fill="#0095ff"/>
<rect x="315" y="598" width="16" height="3" fill="#0045ff"/>
<rect x="315" y="601" width="16" height="17" fill="#002aff"/>
<rect x="315" y="618" width="16" height="2" fill="#0034ff"/>
<rect x="315" y="620" width="16" height="3" fill="#006dff"/>
<rect x="315" y="623" width="16" height="3" fill="#00bdff"/>
<rect x="315" y="626" width="16" height="3" fill="#3bffbc"/>
<rect x="315" y="629" width="16" height="3" fill="#b3ff44"/>
<rect x="315" y="632" width="16" height="2" fill="#f0fd07"/>
<rect x="315" y="634" width="16" height="6" fill="#ffc700"/>
<rect x="315" y="640" width="16" height="3" fill="#ffdf00"/>
<rect x="315" y="643" width="16" height="2" fill="#e4ff13"/>
<rect x="315" y="645" width="16" height="3" fill="#bfff38"/>
<rect x="315" y="648" width="16" height="3" fill="#9fff57"/>
<rect x="315" y="651" width="16" height="3" fill="#72ff85"/>
<rect x="315" y="654" width="16" height="3" fill="#28ffcf"/>
<rect x="315" y="657" width="16" height="2" fill="#00dffc"/>
<rect x="315" y="659" width="16" height="3" fill="#00bdff"/>
<rect x="315" y="662" width="16" height="3" fill="#009cff"/>
<rect x="315" y="665" width="16" height="3" fill="#0097ff"/>
<rect x="315" y="668" width="16" height="2" fill="#0092ff"/>
<rect x="315" y="670" width="16" height="17" fill="#007eff"/>
<rect x="315" y="687" width="16" height="3" fill="#008fff"/>
<rect x="315" y="690" width="16" height="3" fill="#0091ff"/>
<rect x="315" y="693" width="16" height="2" fill="#0093ff"/>
<rect x="315" y="695" width="16" height="3" fill="#0095ff"/>
<rect x="315" y="698" width="16" height="17" fill="#00a9ff"/>
<rect x="315" y="715" width="16" height="11" fill="#0099ff"/>
<rect x="315" y="726" width="16" height="11" fill="#008fff"/>
<rect x="331" y="545" width="15" height="3" fill="#ffb100"/>
<rect x="331" y="548" width="15" height="3" fill="#ffc000"/>
<rect x="331" y="551" width="15" height="3" fill="#fdef00"/>
<rect x="331" y="554" width="15" height="3" fill="#cbff2c"/>
<rect x="331" y="557" width="15" height="2" fill="#a6ff51"/>
<rect x="331" y="559" width="15" height="3" fill="#8cff6b"/>
<rect x="331" y="562" width="15" height="8" fill="#7eff78"/>
<rect x="331" y="570" width="15" height="3" fill="#72ff85"/>
<rect x="331" y="573" width="15" height="3" fill="#21ffd6"/>
<rect x="331" y="576" width="15" height="3" fill="#92ff65"/>
<rect x="331" y="579" width="15" height="5" fill="#800000"/>
<rect x="331" y="584" width="15" height="3" fill="#c20000"/>
<rect x="331" y="587" width="15" height="3" fill="#cbff2c"/>
<rect x="331" y="590" width="15" height="3" fill="#1bffdc"/>
<rect x="331" y="593" width="15" height="2" fill="#0095ff"/>
<rect x="331" y="595" width="15" height="3" fill="#0059ff"/>
<rect x="331" y="598" width="15" height="25" fill="#0020ff"/>
<rect x="331" y="623" width="15" height="3" fill="#0024ff"/>
<rect x="331" y="626" width="15" height="3" fill="#0052ff"/>
<rect x="331" y="629" width="15" height="3" fill="#00dffc"/>
<rect x="331" y="632" width="15" height="2" fill="#9fff57"/>
<rect x="331" y="634" width="15" height="9" fill="#d1ff26"/>
<rect x="331" y="643" width="15" height="2" fill="#cbff2c"/>
<rect x="331" y="645" width="15" height="3" fill="#9fff57"/>
<rect x="331" y="648" width="15" height="3" fill="#4dffaa"/>
<rect x="331" y="651" width="15" height="3" fill="#00d7ff"/>
<rect x="331" y="654" width="15" height="3" fill="#0095ff"/>
<rect x="331" y="657" width="15" height="5" fill="#0066ff"/>
<rect x="331" y="662" width="15" height="3" fill="#004bff"/>
<rect x="331" y="665" width="15" height="3" fill="#0048ff"/>
<rect x="331" y="668" width="15" height="2" fill="#0045ff"/>
<rect x="331" y="670" width="15" height="17" fill="#0034ff"/>
<rect x="331" y="687" width="15" height="3" fill="#0045ff"/>
<rect x="331" y="690" width="15" height="3" fill="#0046ff"/>
<rect x="331" y="693" width="15" height="2" fill="#0048ff"/>
<rect x="331" y="695" width="15" height="3" fill="#004aff"/>
<rect x="331" y="698" width="15" height="3" fill="#004bff"/>
<rect x="331" y="701" width="15" height="17" fill="#005cff"/>
<rect x="331" y="718" width="15" height="19" fill="#003bff"/>
<rect x="346" y="545" width="15" height="3" fill="#ffc700"/>
<rect x="346" y="548" width="15" height="3" fill="#ffdf00"/>
<rect x="346" y="551" width="15" height="3" fill="#eaff0d"/>
<rect x="346" y="554" width="15" height="3" fill="#cbff2c"/>
<rect x="346" y="557" width="15" height="2" fill="#9fff57"/>
<rect x="346" y="559" width="15" height="11" fill="#85ff72"/>
<rect x="346" y="570" width="15" height="3" fill="#72ff85"/>
<rect x="346" y="573" width="15" height="3" fill="#59ff9d"/>
<rect x="346" y="576" width="15" height="3" fill="#47ffb0"/>
<rect x="346" y="579" width="15" height="3" fill="#59ff9d"/>
<rect x="346" y="582" width="15" height="2" fill="#ff9400"/>
<rect x="346" y="584" width="15" height="3" fill="#ff2a00"/>
<rect x="346" y="587" width="15" height="3" fill="#ff8600"/>
<rect x="346" y="590" width="15" height="3" fill="#f0fd07"/>
<rect x="346" y="593" width="15" height="2" fill="#b3ff44"/>
<rect x="346" y="595" width="15" height="3" fill="#9fff57"/>
<rect x="346" y="598" width="15" height="3" fill="#d7ff20"/>
<rect x="346" y="601" width="15" height="3" fill="#92ff65"/>
<rect x="346" y="604" width="15" height="3" fill="#14ffe2"/>
<rect x="346" y="607" width="15" height="2" fill="#0095ff"/>
<rect x="346" y="609" width="15" height="3" fill="#0059ff"/>
<rect x="346" y="612" width="15" height="20" fill="#0034ff"/>
<rect x="346" y="632" width="15" height="2" fill="#00a9ff"/>
<rect x="346" y="634" width="15" height="3" fill="#00caff"/>
<rect x="346" y="637" width="15" height="3" fill="#14ffe2"/>
<rect x="346" y="640" width="15" height="11" fill="#28ffcf"/>
<rect x="346" y="651" width="15" height="6" fill="#07efef"/>
<rect x="346" y="657" width="15" height="2" fill="#00caff"/>
<rect x="346" y="659" width="15" height="6" fill="#00a9ff"/>
<rect x="346" y="665" width="15" height="11" fill="#00b6ff"/>
<rect x="346" y="676" width="15" height="3" fill="#007aff"/>
<rect x="346" y="679" width="15" height="8" fill="#0060ff"/>
<rect x="346" y="687" width="15" height="50" fill="#004bff"/>
<rect x="361" y="545" width="16" height="3" fill="#ffb100"/>
<rect x="361" y="548" width="16" height="3" fill="#ffa200"/>
<rect x="361" y="551" width="16" height="3" fill="#ffaa00"/>
<rect x="361" y="554" width="16" height="3" fill="#ffc700"/>
<rect x="361" y="557" width="16" height="2" fill="#ffe700"/>
<rect x="361" y="559" width="16" height="3" fill="#f0fd07"/>
<rect x="361" y="562" width="16" height="6" fill="#ddff19"/>
<rect x="361" y="568" width="16" height="2" fill="#cbff2c"/>
<rect x="361" y="570" width="16" height="3" fill="#b3ff44"/>
<rect x="361" y="573" width="16" height="3" fill="#99ff5e"/>
<rect x="361" y="576" width="16" height="3" fill="#7eff78"/>
<rect x="361" y="579" width="16" height="3" fill="#60ff97"/>
<rect x="361" y="582" width="16" height="2" fill="#3bffbc"/>
<rect x="361" y="584" width="16" height="3" fill="#07efef"/>
<rect x="361" y="587" width="16" height="3" fill="#00b0ff"/>
<rect x="361" y="590" width="16" height="3" fill="#0081ff"/>
<rect x="361" y="593" width="16" height="2" fill="#007aff"/>
<rect x="361" y="595" width="16" height="3" fill="#28ffcf"/>
<rect x="361" y="598" width="16" height="3" fill="#ff1a00"/>
<rect x="361" y="601" width="16" height="3" fill="#800000"/>
<rect x="361" y="604" width="16" height="3" fill="#900000"/>
<rect x="361" y="607" width="16" height="2" fill="#ffaa00"/>
<rect x="361" y="609" width="16" height="3" fill="#59ff9d"/>
<rect x="361" y="612" width="16" height="3" fill="#00d7ff"/>
<rect x="361" y="615" width="16" height="3" fill="#0095ff"/>
<rect x="361" y="618" width="16" height="2" fill="#0066ff"/>
<rect x="361" y="620" width="16" height="3" fill="#002aff"/>
<rect x="361" y="623" width="16" height="6" fill="#0029ff"/>
<rect x="361" y="629" width="16" height="3" fill="#0028ff"/>
<rect x="361" y="632" width="16" height="2" fill="#0027ff"/>
<rect x="361" y="634" width="16" height="3" fill="#0026ff"/>
<rect x="361" y="637" width="16" height="6" fill="#0025ff"/>
<rect x="361" y="643" width="16" height="22" fill="#0024ff"/>
<rect x="361" y="665" width="16" height="3" fill="#0045ff"/>
<rect x="361" y="668" width="16" height="2" fill="#0095ff"/>
<rect x="361" y="670" width="16" height="3" fill="#28ffcf"/>
<rect x="361" y="673" width="16" height="3" fill="#66ff91"/>
<rect x="361" y="676" width="16" height="3" fill="#7eff78"/>
<rect x="361" y="679" width="16" height="2" fill="#72ff85"/>
<rect x="361" y="681" width="16" height="3" fill="#47ffb0"/>
<rect x="361" y="684" width="16" height="3" fill="#07efef"/>
<rect x="361" y="687" width="16" height="3" fill="#00a9ff"/>
<rect x="361" y="690" width="16" height="3" fill="#007aff"/>
<rect x="361" y="693" width="16" height="2" fill="#0059ff"/>
<rect x="361" y="695" width="16" height="9" fill="#003eff"/>
<rect x="361" y="704" width="16" height="33" fill="#0024ff"/>
<rect x="377" y="545" width="15" height="3" fill="#ff9400"/>
<rect x="377" y="548" width="15" height="6" fill="#ff7a00"/>
<rect x="377" y="554" width="15" height="3" fill="#ff8600"/>
<rect x="377" y="557" width="15" height="2" fill="#ffaa00"/>
<rect x="377" y="559" width="15" height="3" fill="#ffd700"/>
<rect x="377" y="562" width="15" height="3" fill="#f0fd07"/>
<rect x="377" y="565" width="15" height="3" fill="#ddff19"/>
<rect x="377" y="568" width="15" height="2" fill="#d1ff26"/>
<rect x="377" y="570" width="15" height="3" fill="#bfff38"/>
<rect x="377" y="573" width="15" height="3" fill="#9fff57"/>
<rect x="377" y="576" width="15" height="3" fill="#7eff78"/>
<rect x="377" y="579" width="15" height="3" fill="#6cff8b"/>
<rect x="377" y="582" width="15" height="2" fill="#4dffaa"/>
<rect x="377" y="584" width="15" height="3" fill="#1bffdc"/>
<rect x="377" y="587" width="15" height="3" fill="#00caff"/>
<rect x="377" y="590" width="15" height="3" fill="#009cff"/>
<rect x="377" y="593" width="15" height="2" fill="#0081ff"/>
<rect x="377" y="595" width="15" height="3" fill="#0088ff"/>
<rect x="377" y="598" width="15" height="3" fill="#00bdff"/>
<rect x="377" y="601" width="15" height="3" fill="#ffc700"/>
<rect x="377" y="604" width="15" height="5" fill="#800000"/>
<rect x="377" y="609" width="15" height="3" fill="#ff3b00"/>
<rect x="377" y="612" width="15" height="3" fill="#b3ff44"/>
<rect x="377" y="615" width="15" height="3" fill="#28ffcf"/>
<rect x="377" y="618" width="15" height="2" fill="#00bdff"/>
<rect x="377" y="620" width="15" height="3" fill="#0081ff"/>
<rect x="377" y="623" width="15" height="3" fill="#0066ff"/>
<rect x="377" y="626" width="15" height="3" fill="#003eff"/>
<rect x="377" y="629" width="15" height="3" fill="#003aff"/>
<rect x="377" y="632" width="15" height="2" fill="#0035ff"/>
<rect x="377" y="634" width="15" height="3" fill="#0031ff"/>
<rect x="377" y="637" width="15" height="3" fill="#002cff"/>
<rect x="377" y="640" width="15" height="3" fill="#0028ff"/>
<rect x="377" y="643" width="15" height="30" fill="#0024ff"/>
<rect x="377" y="673" width="15" height="3" fill="#003eff"/>
<rect x="377" y="676" width="15" height="3" fill="#00b0ff"/>
<rect x="377" y="679" width="15" height="2" fill="#07efef"/>
<rect x="377" y="681" width="15" height="3" fill="#28ffcf"/>
<rect x="377" y="684" width="15" height="3" fill="#3bffbc"/>
<rect x="377" y="687" width="15" height="3" fill="#28ffcf"/>
<rect x="377" y="690" width="15" height="3" fill="#00d7ff"/>
<rect x="377" y="693" width="15" height="2" fill="#009cff"/>
<rect x="377" y="695" width="15" height="3" fill="#006dff"/>
<rect x="377" y="698" width="15" height="3" fill="#0059ff"/>
<rect x="377" y="701" width="15" height="5" fill="#0045ff"/>
<rect x="377" y="706" width="15" height="31" fill="#002aff"/>
<rect x="392" y="545" width="15" height="3" fill="#ff9400"/>
<rect x="392" y="548" width="15" height="6" fill="#ff8600"/>
<rect x="392" y="554" width="15" height="3" fill="#ff9400"/>
<rect x="392" y="557" width="15" height="2" fill="#ff9b00"/>
<rect x="392" y="559" width="15" height="3" fill="#ffb100"/>
<rect x="392" y="562" width="15" height="3" fill="#ffc700"/>
<rect x="392" y="565" width="15" height="3" fill="#fdef00"/>
<rect x="392" y="568" width="15" height="2" fill="#e4ff13"/>
<rect x="392" y="570" width="15" height="3" fill="#cbff2c"/>
<rect x="392" y="573" width="15" height="3" fill="#b3ff44"/>
<rect x="392" y="576" width="15" height="3" fill="#99ff5e"/>
<rect x="392" y="579" width="15" height="3" fill="#7eff78"/>
<rect x="392" y="582" width="15" height="2" fill="#59ff9d"/>
<rect x="392" y="584" width="15" height="3" fill="#34ffc2"/>
<rect x="392" y="587" width="15" height="3" fill="#07efef"/>
<rect x="392" y="590" width="15" height="3" fill="#00caff"/>
<rect x="392" y="593" width="15" height="2" fill="#00b6ff"/>
<rect x="392" y="595" width="15" height="3" fill="#009cff"/>
<rect x="392" y="598" width="15" height="6" fill="#0088ff"/>
<rect x="392" y="604" width="15" height="3" fill="#cbff2c"/>
<rect x="392" y="607" width="15" height="2" fill="#800000"/>
<rect x="392" y="609" width="15" height="3" fill="#a90000"/>
<rect x="392" y="612" width="15" height="3" fill="#ff1400"/>
<rect x="392" y="615" width="15" height="3" fill="#b3ff44"/>
<rect x="392" y="618" width="15" height="2" fill="#1bffdc"/>
<rect x="392" y="620" width="15" height="3" fill="#00a9ff"/>
<rect x="392" y="623" width="15" height="3" fill="#007aff"/>
<rect x="392" y="626" width="15" height="3" fill="#0059ff"/>
<rect x="392" y="629" width="15" height="3" fill="#003eff"/>
<rect x="392" y="632" width="15" height="2" fill="#0039ff"/>
<rect x="392" y="634" width="15" height="3" fill="#0033ff"/>
<rect x="392" y="637" width="15" height="3" fill="#002eff"/>
<rect x="392" y="640" width="15" height="3" fill="#0029ff"/>
<rect x="392" y="643" width="15" height="36" fill="#0024ff"/>
<rect x="392" y="679" width="15" height="2" fill="#0034ff"/>
<rect x="392" y="681" width="15" height="3" fill="#0059ff"/>
<rect x="392" y="684" width="15" height="3" fill="#0081ff"/>
<rect x="392" y="687" width="15" height="3" fill="#00bdff"/>
<rect x="392" y="690" width="15" height="3" fill="#07efef"/>
<rect x="392" y="693" width="15" height="2" fill="#14ffe2"/>
<rect x="392" y="695" width="15" height="3" fill="#00d7ff"/>
<rect x="392" y="698" width="15" height="3" fill="#00a9ff"/>
<rect x="392" y="701" width="15" height="3" fill="#0081ff"/>
<rect x="392" y="704" width="15" height="2" fill="#0066ff"/>
<rect x="392" y="706" width="15" height="6" fill="#0052ff"/>
<rect x="392" y="712" width="15" height="25" fill="#0037ff"/>
<rect x="407" y="545" width="15" height="3" fill="#ff9400"/>
<rect x="407" y="548" width="15" height="3" fill="#ffa200"/>
<rect x="407" y="551" width="15" height="3" fill="#ffb100"/>
<rect x="407" y="554" width="15" height="3" fill="#ffc000"/>
<rect x="407" y="557" width="15" height="2" fill="#ffd700"/>
<rect x="407" y="559" width="15" height="3" fill="#fdef00"/>
<rect x="407" y="562" width="15" height="3" fill="#e4ff13"/>
<rect x="407" y="565" width="15" height="3" fill="#d1ff26"/>
<rect x="407" y="568" width="15" height="2" fill="#bfff38"/>
<rect x="407" y="570" width="15" height="3" fill="#a6ff51"/>
<rect x="407" y="573" width="15" height="3" fill="#8cff6b"/>
<rect x="407" y="576" width="15" height="3" fill="#72ff85"/>
<rect x="407" y="579" width="15" height="3" fill="#59ff9d"/>
<rect x="407" y="582" width="15" height="2" fill="#34ffc2"/>
<rect x="407" y="584" width="15" height="3" fill="#07efef"/>
<rect x="407" y="587" width="15" height="3" fill="#00caff"/>
<rect x="407" y="590" width="15" height="3" fill="#00b0ff"/>
<rect x="407" y="593" width="15" height="5" fill="#009cff"/>
<rect x="407" y="598" width="15" height="3" fill="#1bffdc"/>
<rect x="407" y="601" width="15" height="3" fill="#fdef00"/>
<rect x="407" y="604" width="15" height="5" fill="#800000"/>
<rect x="407" y="609" width="15" height="3" fill="#ff3b00"/>
<rect x="407" y="612" width="15" height="3" fill="#bfff38"/>
<rect x="407" y="615" width="15" height="3" fill="#28ffcf"/>
<rect x="407" y="618" width="15" height="2" fill="#00b0ff"/>
<rect x="407" y="620" width="15" height="3" fill="#007aff"/>
<rect x="407" y="623" width="15" height="3" fill="#0052ff"/>
<rect x="407" y="626" width="15" height="44" fill="#0034ff"/>
<rect x="407" y="670" width="15" height="3" fill="#003eff"/>
<rect x="407" y="673" width="15" height="3" fill="#006dff"/>
<rect x="407" y="676" width="15" height="3" fill="#00a9ff"/>
<rect x="407" y="679" width="15" height="2" fill="#00d7ff"/>
<rect x="407" y="681" width="15" height="3" fill="#1bffdc"/>
<rect x="407" y="684" width="15" height="3" fill="#21ffd6"/>
<rect x="407" y="687" width="15" height="3" fill="#00d7ff"/>
<rect x="407" y="690" width="15" height="3" fill="#009cff"/>
<rect x="407" y="693" width="15" height="2" fill="#006dff"/>
<rect x="407" y="695" width="15" height="3" fill="#0059ff"/>
<rect x="407" y="698" width="15" height="6" fill="#0045ff"/>
<rect x="407" y="704" width="15" height="33" fill="#0034ff"/>
<rect x="422" y="545" width="16" height="3" fill="#ff9400"/>
<rect x="422" y="548" width="16" height="3" fill="#ffaa00"/>
<rect x="422" y="551" width="16" height="3" fill="#ffc000"/>
<rect x="422" y="554" width="16" height="3" fill="#ffdf00"/>
<rect x="422" y="557" width="16" height="2" fill="#cbff2c"/>
<rect x="422" y="559" width="16" height="3" fill="#b3ff44"/>
<rect x="422" y="562" width="16" height="3" fill="#99ff5e"/>
<rect x="422" y="565" width="16" height="3" fill="#7eff78"/>
<rect x="422" y="568" width="16" height="2" fill="#72ff85"/>
<rect x="422" y="570" width="16" height="9" fill="#60ff97"/>
<rect x="422" y="579" width="16" height="3" fill="#4dffaa"/>
<rect x="422" y="582" width="16" height="2" fill="#3bffbc"/>
<rect x="422" y="584" width="16" height="3" fill="#28ffcf"/>
<rect x="422" y="587" width="16" height="3" fill="#1bffdc"/>
<rect x="422" y="590" width="16" height="3" fill="#07efef"/>
<rect x="422" y="593" width="16" height="2" fill="#00bdff"/>
<rect x="422" y="595" width="16" height="3" fill="#009cff"/>
<rect x="422" y="598" width="16" height="3" fill="#00bdff"/>
<rect x="422" y="601" width="16" height="3" fill="#9fff57"/>
<rect x="422" y="604" width="16" height="3" fill="#db0000"/>
<rect x="422" y="607" width="16" height="2" fill="#800000"/>
<rect x="422" y="609" width="16" height="3" fill="#900000"/>
<rect x="422" y="612" width="16" height="3" fill="#ffcf00"/>
<rect x="422" y="615" width="16" height="3" fill="#7eff78"/>
<rect x="422" y="618" width="16" height="2" fill="#00d7ff"/>
<rect x="422" y="620" width="16" height="3" fill="#0095ff"/>
<rect x="422" y="623" width="16" height="3" fill="#006dff"/>
<rect x="422" y="626" width="16" height="3" fill="#0052ff"/>
<rect x="422" y="629" width="16" height="3" fill="#0034ff"/>
<rect x="422" y="632" width="16" height="5" fill="#0033ff"/>
<rect x="422" y="637" width="16" height="3" fill="#0032ff"/>
<rect x="422" y="640" width="16" height="33" fill="#0031ff"/>
<rect x="422" y="673" width="16" height="3" fill="#003eff"/>
<rect x="422" y="676" width="16" height="3" fill="#0081ff"/>
<rect x="422" y="679" width="16" height="2" fill="#009cff"/>
<rect x="422" y="681" width="16" height="3" fill="#00d0ff"/>
<rect x="422" y="684" width="16" height="6" fill="#0ef7e9"/>
<rect x="422" y="690" width="16" height="3" fill="#00dffc"/>
<rect x="422" y="693" width="16" height="2" fill="#00b0ff"/>
<rect x="422" y="695" width="16" height="3" fill="#007aff"/>
<rect x="422" y="698" width="16" height="3" fill="#0059ff"/>
<rect x="422" y="701" width="16" height="5" fill="#0045ff"/>
<rect x="422" y="706" width="16" height="31" fill="#0031ff"/>
<rect x="438" y="545" width="15" height="3" fill="#ff9400"/>
<rect x="438" y="548" width="15" height="3" fill="#ffaa00"/>
<rect x="438" y="551" width="15" height="3" fill="#ffcf00"/>
<rect x="438" y="554" width="15" height="3" fill="#fdef00"/>
<rect x="438" y="557" width="15" height="5" fill="#eaff0d"/>
<rect x="438" y="562" width="15" height="3" fill="#ddff19"/>
<rect x="438" y="565" width="15" height="3" fill="#cbff2c"/>
<rect x="438" y="568" width="15" height="2" fill="#b3ff44"/>
<rect x="438" y="570" width="15" height="3" fill="#9fff57"/>
<rect x="438" y="573" width="15" height="3" fill="#8cff6b"/>
<rect x="438" y="576" width="15" height="6" fill="#7eff78"/>
<rect x="438" y="582" width="15" height="2" fill="#6cff8b"/>
<rect x="438" y="584" width="15" height="3" fill="#4dffaa"/>
<rect x="438" y="587" width="15" height="3" fill="#34ffc2"/>
<rect x="438" y="590" width="15" height="3" fill="#14ffe2"/>
<rect x="438" y="593" width="15" height="2" fill="#00d7ff"/>
<rect x="438" y="595" width="15" height="3" fill="#00bdff"/>
<rect x="438" y="598" width="15" height="3" fill="#009cff"/>
<rect x="438" y="601" width="15" height="3" fill="#0088ff"/>
<rect x="438" y="604" width="15" height="3" fill="#009cff"/>
<rect x="438" y="607" width="15" height="2" fill="#9fff57"/>
<rect x="438" y="609" width="15" height="3" fill="#c20000"/>
<rect x="438" y="612" width="15" height="3" fill="#800000"/>
<rect x="438" y="615" width="15" height="3" fill="#d20000"/>
<rect x="438" y="618" width="15" height="2" fill="#eaff0d"/>
<rect x="438" y="620" width="15" height="3" fill="#3bffbc"/>
<rect x="438" y="623" width="15" height="3" fill="#00b0ff"/>
<rect x="438" y="626" width="15" height="3" fill="#007aff"/>
<rect x="438" y="629" width="15" height="3" fill="#0052ff"/>
<rect x="438" y="632" width="15" height="2" fill="#002aff"/>
<rect x="438" y="634" width="15" height="3" fill="#0028ff"/>
<rect x="438" y="637" width="15" height="3" fill="#0025ff"/>
<rect x="438" y="640" width="15" height="3" fill="#0023ff"/>
<rect x="438" y="643" width="15" height="44" fill="#0020ff"/>
<rect x="438" y="687" width="15" height="3" fill="#003eff"/>
<rect x="438" y="690" width="15" height="3" fill="#0066ff"/>
<rect x="438" y="693" width="15" height="2" fill="#0088ff"/>
<rect x="438" y="695" width="15" height="3" fill="#00caff"/>
<rect x="438" y="698" width="15" height="3" fill="#00d7ff"/>
<rect x="438" y="701" width="15" height="3" fill="#00caff"/>
<rect x="438" y="704" width="15" height="2" fill="#009cff"/>
<rect x="438" y="706" width="15" height="3" fill="#006dff"/>
<rect x="438" y="709" width="15" height="3" fill="#0052ff"/>
<rect x="438" y="712" width="15" height="6" fill="#003eff"/>
<rect x="438" y="718" width="15" height="19" fill="#0024ff"/>
<rect x="453" y="545" width="15" height="3" fill="#ff9400"/>
<rect x="453" y="548" width="15" height="3" fill="#ffaa00"/>
<rect x="453" y="551" width="15" height="3" fill="#ffb800"/>
<rect x="453" y="554" width="15" height="3" fill="#ffcf00"/>
<rect x="453" y="557" width="15" height="2" fill="#ffd700"/>
<rect x="453" y="559" width="15" height="3" fill="#ffb100"/>
<rect x="453" y="562" width="15" height="3" fill="#ffc000"/>
<rect x="453" y="565" width="15" height="3" fill="#ddff19"/>
<rect x="453" y="568" width="15" height="2" fill="#bfff38"/>
<rect x="453" y="570" width="15" height="3" fill="#adff4a"/>
<rect x="453" y="573" width="15" height="3" fill="#99ff5e"/>
<rect x="453" y="576" width="15" height="8" fill="#85ff72"/>
<rect x="453" y="584" width="15" height="3" fill="#72ff85"/>
<rect x="453" y="587" width="15" height="3" fill="#59ff9d"/>
<rect x="453" y="590" width="15" height="3" fill="#3bffbc"/>
<rect x="453" y="593" width="15" height="2" fill="#1bffdc"/>
<rect x="453" y="595" width="15" height="3" fill="#00d7ff"/>
<rect x="453" y="598" width="15" height="3" fill="#00bdff"/>
<rect x="453" y="601" width="15" height="3" fill="#00a9ff"/>
<rect x="453" y="604" width="15" height="3" fill="#0095ff"/>
<rect x="453" y="607" width="15" height="2" fill="#0088ff"/>
<rect x="453" y="609" width="15" height="3" fill="#00d7ff"/>
<rect x="453" y="612" width="15" height="3" fill="#e4ff13"/>
<rect x="453" y="615" width="15" height="3" fill="#a10000"/>
<rect x="453" y="618" width="15" height="2" fill="#800000"/>
<rect x="453" y="620" width="15" height="3" fill="#ff5700"/>
<rect x="453" y="623" width="15" height="3" fill="#8cff6b"/>
<rect x="453" y="626" width="15" height="3" fill="#07efef"/>
<rect x="453" y="629" width="15" height="3" fill="#0095ff"/>
<rect x="453" y="632" width="15" height="2" fill="#0066ff"/>
<rect x="453" y="634" width="15" height="3" fill="#003eff"/>
<rect x="453" y="637" width="15" height="3" fill="#0033ff"/>
<rect x="453" y="640" width="15" height="3" fill="#0028ff"/>
<rect x="453" y="643" width="15" height="55" fill="#001dff"/>
<rect x="453" y="698" width="15" height="3" fill="#0045ff"/>
<rect x="453" y="701" width="15" height="3" fill="#0066ff"/>
<rect x="453" y="704" width="15" height="5" fill="#006dff"/>
<rect x="453" y="709" width="15" height="3" fill="#0066ff"/>
<rect x="453" y="712" width="15" height="3" fill="#0059ff"/>
<rect x="453" y="715" width="15" height="3" fill="#0045ff"/>
<rect x="453" y="718" width="15" height="19" fill="#0024ff"/>
<rect x="468" y="545" width="16" height="3" fill="#ff8600"/>
<rect x="468" y="548" width="16" height="3" fill="#ff9400"/>
<rect x="468" y="551" width="16" height="3" fill="#ffa200"/>
<rect x="468" y="554" width="16" height="3" fill="#ffb100"/>
<rect x="468" y="557" width="16" height="5" fill="#ffb800"/>
<rect x="468" y="562" width="16" height="3" fill="#ffc000"/>
<rect x="468" y="565" width="16" height="3" fill="#fdef00"/>
<rect x="468" y="568" width="16" height="2" fill="#ddff19"/>
<rect x="468" y="570" width="16" height="3" fill="#cbff2c"/>
<rect x="468" y="573" width="16" height="3" fill="#bfff38"/>
<rect x="468" y="576" width="16" height="3" fill="#adff4a"/>
<rect x="468" y="579" width="16" height="3" fill="#99ff5e"/>
<rect x="468" y="582" width="16" height="2" fill="#85ff72"/>
<rect x="468" y="584" width="16" height="3" fill="#72ff85"/>
<rect x="468" y="587" width="16" height="3" fill="#59ff9d"/>
<rect x="468" y="590" width="16" height="3" fill="#34ffc2"/>
<rect x="468" y="593" width="16" height="2" fill="#14ffe2"/>
<rect x="468" y="595" width="16" height="3" fill="#00d7ff"/>
<rect x="468" y="598" width="16" height="3" fill="#00c3ff"/>
<rect x="468" y="601" width="16" height="3" fill="#00b0ff"/>
<rect x="468" y="604" width="16" height="3" fill="#009cff"/>
<rect x="468" y="607" width="16" height="2" fill="#0095ff"/>
<rect x="468" y="609" width="16" height="3" fill="#009cff"/>
<rect x="468" y="612" width="16" height="3" fill="#3bffbc"/>
<rect x="468" y="615" width="16" height="3" fill="#ff9400"/>
<rect x="468" y="618" width="16" height="2" fill="#800000"/>
<rect x="468" y="620" width="16" height="3" fill="#a90000"/>
<rect x="468" y="623" width="16" height="3" fill="#ddff19"/>
<rect x="468" y="626" width="16" height="3" fill="#28ffcf"/>
<rect x="468" y="629" width="16" height="3" fill="#009cff"/>
<rect x="468" y="632" width="16" height="2" fill="#006dff"/>
<rect x="468" y="634" width="16" height="3" fill="#0052ff"/>
<rect x="468" y="637" width="16" height="3" fill="#003eff"/>
<rect x="468" y="640" width="16" height="3" fill="#0031ff"/>
<rect x="468" y="643" width="16" height="5" fill="#0024ff"/>
<rect x="468" y="648" width="16" height="17" fill="#0023ff"/>
<rect x="468" y="665" width="16" height="16" fill="#0022ff"/>
<rect x="468" y="681" width="16" height="17" fill="#0021ff"/>
<rect x="468" y="698" width="16" height="3" fill="#0020ff"/>
<rect x="468" y="701" width="16" height="5" fill="#003eff"/>
<rect x="468" y="706" width="16" height="6" fill="#0066ff"/>
<rect x="468" y="712" width="16" height="6" fill="#0052ff"/>
<rect x="468" y="718" width="16" height="19" fill="#002eff"/>
<rect x="484" y="545" width="15" height="3" fill="#ff6300"/>
<rect x="484" y="548" width="15" height="3" fill="#ff6e00"/>
<rect x="484" y="551" width="15" height="3" fill="#ff8000"/>
<rect x="484" y="554" width="15" height="3" fill="#ffa200"/>
<rect x="484" y="557" width="15" height="2" fill="#ffcf00"/>
<rect x="484" y="559" width="15" height="3" fill="#f0fd07"/>
<rect x="484" y="562" width="15" height="8" fill="#ddff19"/>
<rect x="484" y="570" width="15" height="3" fill="#d1ff26"/>
<rect x="484" y="573" width="15" height="3" fill="#cbff2c"/>
<rect x="484" y="576" width="15" height="3" fill="#bfff38"/>
<rect x="484" y="579" width="15" height="3" fill="#adff4a"/>
<rect x="484" y="582" width="15" height="2" fill="#99ff5e"/>
<rect x="484" y="584" width="15" height="3" fill="#72ff85"/>
<rect x="484" y="587" width="15" height="3" fill="#47ffb0"/>
<rect x="484" y="590" width="15" height="3" fill="#1bffdc"/>
<rect x="484" y="593" width="15" height="2" fill="#00d7ff"/>
<rect x="484" y="595" width="15" height="3" fill="#00bdff"/>
<rect x="484" y="598" width="15" height="3" fill="#00a9ff"/>
<rect x="484" y="601" width="15" height="3" fill="#009cff"/>
<rect x="484" y="604" width="15" height="5" fill="#0095ff"/>
<rect x="484" y="609" width="15" height="3" fill="#009cff"/>
<rect x="484" y="612" width="15" height="3" fill="#00bdff"/>
<rect x="484" y="615" width="15" height="3" fill="#cbff2c"/>
<rect x="484" y="618" width="15" height="2" fill="#800000"/>
<rect x="484" y="620" width="15" height="3" fill="#d20000"/>
<rect x="484" y="623" width="15" height="3" fill="#ff9400"/>
<rect x="484" y="626" width="15" height="3" fill="#72ff85"/>
<rect x="484" y="629" width="15" height="3" fill="#00bdff"/>
<rect x="484" y="632" width="15" height="2" fill="#0081ff"/>
<rect x="484" y="634" width="15" height="3" fill="#0059ff"/>
<rect x="484" y="637" width="15" height="3" fill="#003eff"/>
<rect x="484" y="640" width="15" height="3" fill="#0034ff"/>
<rect x="484" y="643" width="15" height="8" fill="#002aff"/>
<rect x="484" y="651" width="15" height="6" fill="#0029ff"/>
<rect x="484" y="657" width="15" height="8" fill="#0028ff"/>
<rect x="484" y="665" width="15" height="5" fill="#0027ff"/>
<rect x="484" y="670" width="15" height="36" fill="#001dff"/>
<rect x="484" y="706" width="15" height="9" fill="#0045ff"/>
<rect x="484" y="715" width="15" height="5" fill="#003eff"/>
<rect x="484" y="720" width="15" height="17" fill="#0020ff"/>
<rect x="499" y="545" width="15" height="3" fill="#ff5d00"/>
<rect x="499" y="548" width="15" height="3" fill="#ff6300"/>
<rect x="499" y="551" width="15" height="3" fill="#ff7400"/>
<rect x="499" y="554" width="15" height="3" fill="#ff8600"/>
<rect x="499" y="557" width="15" height="2" fill="#ffa200"/>
<rect x="499" y="559" width="15" height="3" fill="#ffb800"/>
<rect x="499" y="562" width="15" height="3" fill="#ffcf00"/>
<rect x="499" y="565" width="15" height="3" fill="#ffdf00"/>
<rect x="499" y="568" width="15" height="2" fill="#fdef00"/>
<rect x="499" y="570" width="15" height="3" fill="#e4ff13"/>
<rect x="499" y="573" width="15" height="3" fill="#d1ff26"/>
<rect x="499" y="576" width="15" height="3" fill="#bfff38"/>
<rect x="499" y="579" width="15" height="3" fill="#9fff57"/>
<rect x="499" y="582" width="15" height="2" fill="#7eff78"/>
<rect x="499" y="584" width="15" height="3" fill="#59ff9d"/>
<rect x="499" y="587" width="15" height="3" fill="#28ffcf"/>
<rect x="499" y="590" width="15" height="3" fill="#00d7ff"/>
<rect x="499" y="593" width="15" height="2" fill="#00bdff"/>
<rect x="499" y="595" width="15" height="3" fill="#00a9ff"/>
<rect x="499" y="598" width="15" height="17" fill="#0095ff"/>
<rect x="499" y="615" width="15" height="3" fill="#00b0ff"/>
<rect x="499" y="618" width="15" height="2" fill="#00d7ff"/>
<rect x="499" y="620" width="15" height="3" fill="#e4ff13"/>
<rect x="499" y="623" width="15" height="3" fill="#a10000"/>
<rect x="499" y="626" width="15" height="3" fill="#ff1400"/>
<rect x="499" y="629" width="15" height="3" fill="#8cff6b"/>
<rect x="499" y="632" width="15" height="2" fill="#00c3ff"/>
<rect x="499" y="634" width="15" height="3" fill="#006dff"/>
<rect x="499" y="637" width="15" height="3" fill="#0045ff"/>
<rect x="499" y="640" width="15" height="3" fill="#0034ff"/>
<rect x="499" y="643" width="15" height="94" fill="#0019ff"/>
<rect x="514" y="545" width="16" height="3" fill="#ff5700"/>
<rect x="514" y="548" width="16" height="3" fill="#ff6300"/>
<rect x="514" y="551" width="16" height="3" fill="#ff7400"/>
<rect x="514" y="554" width="16" height="3" fill="#ff8600"/>
<rect x="514" y="557" width="16" height="2" fill="#ff9400"/>
<rect x="514" y="559" width="16" height="3" fill="#ffaa00"/>
<rect x="514" y="562" width="16" height="3" fill="#ffb800"/>
<rect x="514" y="565" width="16" height="3" fill="#ffcf00"/>
<rect x="514" y="568" width="16" height="2" fill="#ffdf00"/>
<rect x="514" y="570" width="16" height="3" fill="#f6f600"/>
<rect x="514" y="573" width="16" height="3" fill="#e4ff13"/>
<rect x="514" y="576" width="16" height="3" fill="#cbff2c"/>
<rect x="514" y="579" width="16" height="3" fill="#adff4a"/>
<rect x="514" y="582" width="16" height="2" fill="#7eff78"/>
<rect x="514" y="584" width="16" height="3" fill="#4dffaa"/>
<rect x="514" y="587" width="16" height="3" fill="#14ffe2"/>
<rect x="514" y="590" width="16" height="3" fill="#00caff"/>
<rect x="514" y="593" width="16" height="2" fill="#00b0ff"/>
<rect x="514" y="595" width="16" height="3" fill="#009cff"/>
<rect x="514" y="598" width="16" height="20" fill="#0095ff"/>
<rect x="514" y="618" width="16" height="2" fill="#009cff"/>
<rect x="514" y="620" width="16" height="3" fill="#00d7ff"/>
<rect x="514" y="623" width="16" height="3" fill="#f0fd07"/>
<rect x="514" y="626" width="16" height="3" fill="#980000"/>
<rect x="514" y="629" width="16" height="3" fill="#ff4600"/>
<rect x="514" y="632" width="16" height="2" fill="#4dffaa"/>
<rect x="514" y="634" width="16" height="3" fill="#0095ff"/>
<rect x="514" y="637" width="16" height="3" fill="#0059ff"/>
<rect x="514" y="640" width="16" height="3" fill="#0034ff"/>
<rect x="514" y="643" width="16" height="94" fill="#001dff"/>
<rect x="530" y="545" width="15" height="3" fill="#ff4600"/>
<rect x="530" y="548" width="15" height="3" fill="#ff5700"/>
<rect x="530" y="551" width="15" height="3" fill="#ff6e00"/>
<rect x="530" y="554" width="15" height="3" fill="#ff8000"/>
<rect x="530" y="557" width="15" height="2" fill="#ff9400"/>
<rect x="530" y="559" width="15" height="3" fill="#ffa200"/>
<rect x="530" y="562" width="15" height="3" fill="#ffb800"/>
<rect x="530" y="565" width="15" height="3" fill="#ffcf00"/>
<rect x="530" y="568" width="15" height="2" fill="#eaff0d"/>
<rect x="530" y="570" width="15" height="3" fill="#cbff2c"/>
<rect x="530" y="573" width="15" height="3" fill="#b3ff44"/>
<rect x="530" y="576" width="15" height="3" fill="#99ff5e"/>
<rect x="530" y="579" width="15" height="3" fill="#7eff78"/>
<rect x="530" y="582" width="15" height="2" fill="#59ff9d"/>
<rect x="530" y="584" width="15" height="3" fill="#34ffc2"/>
<rect x="530" y="587" width="15" height="3" fill="#14ffe2"/>
<rect x="530" y="590" width="15" height="3" fill="#00d7ff"/>
<rect x="530" y="593" width="15" height="2" fill="#00bdff"/>
<rect x="530" y="595" width="15" height="3" fill="#00a9ff"/>
<rect x="530" y="598" width="15" height="3" fill="#0095ff"/>
<rect x="530" y="601" width="15" height="19" fill="#008bff"/>
<rect x="530" y="620" width="15" height="3" fill="#009cff"/>
<rect x="530" y="623" width="15" height="3" fill="#1bffdc"/>
<rect x="530" y="626" width="15" height="3" fill="#ffc000"/>
<rect x="530" y="629" width="15" height="3" fill="#900000"/>
<rect x="530" y="632" width="15" height="2" fill="#ff8600"/>
<rect x="530" y="634" width="15" height="3" fill="#3bffbc"/>
<rect x="530" y="637" width="15" height="3" fill="#0095ff"/>
<rect x="530" y="640" width="15" height="3" fill="#0052ff"/>
<rect x="530" y="643" width="15" height="2" fill="#002aff"/>
<rect x="530" y="645" width="15" height="92" fill="#0016ff"/>
</g>
<line x1="125.50" y1="43.40" x2="125.50" y2="48.90" stroke="#000" stroke-width="0.8" />
<line x1="125.50" y1="258.30" x2="125.50" y2="252.80" stroke="#000" stroke-width="0.8" />
<line x1="247.50" y1="43.40" x2="247.50" y2="48.90" stroke="#000" stroke-width="0.8" />
<line x1="247.50" y1="258.30" x2="247.50" y2="252.80" stroke="#000" stroke-width="0.8" />
<line x1="368.50" y1="43.40" x2="368.50" y2="48.90" stroke="#000" stroke-width="0.8" />
<line x1="368.50" y1="258.30" x2="368.50" y2="252.80" stroke="#000" stroke-width="0.8" />
<line x1="490.50" y1="43.40" x2="490.50" y2="48.90" stroke="#000" stroke-width="0.8" />
<line x1="490.50" y1="258.30" x2="490.50" y2="252.80" stroke="#000" stroke-width="0.8" />
<text x="97.4" y="46.6" font-size="15" text-anchor="end">0</text>
<line x1="101.50" y1="71.50" x2="107.00" y2="71.50" stroke="#000" stroke-width="0.8" />
<line x1="544.50" y1="71.50" x2="539.00" y2="71.50" stroke="#000" stroke-width="0.8" />
<text x="97.4" y="74.3" font-size="15" text-anchor="end">20</text>
<line x1="101.50" y1="98.50" x2="107.00" y2="98.50" stroke="#000" stroke-width="0.8" />
<line x1="544.50" y1="98.50" x2="539.00" y2="98.50" stroke="#000" stroke-width="0.8" />
<text x="97.4" y="102.1" font-size="15" text-anchor="end">40</text>
<line x1="101.50" y1="126.50" x2="107.00" y2="126.50" stroke="#000" stroke-width="0.8" />
<line x1="544.50" y1="126.50" x2="539.00" y2="126.50" stroke="#000" stroke-width="0.8" />
<text x="97.4" y="129.8" font-size="15" text-anchor="end">60</text>
<line x1="101.50" y1="154.50" x2="107.00" y2="154.50" stroke="#000" stroke-width="0.8" />
<line x1="544.50" y1="154.50" x2="539.00" y2="154.50" stroke="#000" stroke-width="0.8" />
<text x="97.4" y="157.5" font-size="15" text-anchor="end">80</text>
<line x1="101.50" y1="181.50" x2="107.00" y2="181.50" stroke="#000" stroke-width="0.8" />
<line x1="544.50" y1="181.50" x2="539.00" y2="181.50" stroke="#000" stroke-width="0.8" />
<text x="97.4" y="185.2" font-size="15" text-anchor="end">100</text>
<line x1="101.50" y1="209.50" x2="107.00" y2="209.50" stroke="#000" stroke-width="0.8" />
<line x1="544.50" y1="209.50" x2="539.00" y2="209.50" stroke="#000" stroke-width="0.8" />
<text x="97.4" y="213.0" font-size="15" text-anchor="end">120</text>
<line x1="101.50" y1="237.50" x2="107.00" y2="237.50" stroke="#000" stroke-width="0.8" />
<line x1="544.50" y1="237.50" x2="539.00" y2="237.50" stroke="#000" stroke-width="0.8" />
<text x="97.4" y="240.7" font-size="15" text-anchor="end">140</text>
<rect x="101.50" y="43.40" width="443.00" height="214.90" fill="none" stroke="#000" stroke-width="1.25"/>
<line x1="125.50" y1="281.40" x2="125.50" y2="286.90" stroke="#000" stroke-width="0.8" />
<line x1="125.50" y1="497.40" x2="125.50" y2="491.90" stroke="#000" stroke-width="0.8" />
<line x1="247.50" y1="281.40" x2="247.50" y2="286.90" stroke="#000" stroke-width="0.8" />
<line x1="247.50" y1="497.40" x2="247.50" y2="491.90" stroke="#000" stroke-width="0.8" />
<line x1="368.50" y1="281.40" x2="368.50" y2="286.90" stroke="#000" stroke-width="0.8" />
<line x1="368.50" y1="497.40" x2="368.50" y2="491.90" stroke="#000" stroke-width="0.8" />
<line x1="490.50" y1="281.40" x2="490.50" y2="286.90" stroke="#000" stroke-width="0.8" />
<line x1="490.50" y1="497.40" x2="490.50" y2="491.90" stroke="#000" stroke-width="0.8" />
<text x="97.4" y="285.1" font-size="15" text-anchor="end">0</text>
<line x1="101.50" y1="309.50" x2="107.00" y2="309.50" stroke="#000" stroke-width="0.8" />
<line x1="544.50" y1="309.50" x2="539.00" y2="309.50" stroke="#000" stroke-width="0.8" />
<text x="97.4" y="313.0" font-size="15" text-anchor="end">20</text>
<line x1="101.50" y1="337.50" x2="107.00" y2="337.50" stroke="#000" stroke-width="0.8" />
<line x1="544.50" y1="337.50" x2="539.00" y2="337.50" stroke="#000" stroke-width="0.8" />
<text x="97.4" y="340.8" font-size="15" text-anchor="end">40</text>
<line x1="101.50" y1="365.50" x2="107.00" y2="365.50" stroke="#000" stroke-width="0.8" />
<line x1="544.50" y1="365.50" x2="539.00" y2="365.50" stroke="#000" stroke-width="0.8" />
<text x="97.4" y="368.7" font-size="15" text-anchor="end">60</text>
<line x1="101.50" y1="392.50" x2="107.00" y2="392.50" stroke="#000" stroke-width="0.8" />
<line x1="544.50" y1="392.50" x2="539.00" y2="392.50" stroke="#000" stroke-width="0.8" />
<text x="97.4" y="396.6" font-size="15" text-anchor="end">80</text>
<line x1="101.50" y1="420.50" x2="107.00" y2="420.50" stroke="#000" stroke-width="0.8" />
<line x1="544.50" y1="420.50" x2="539.00" y2="420.50" stroke="#000" stroke-width="0.8" />
<text x="97.4" y="424.5" font-size="15" text-anchor="end">100</text>
<line x1="101.50" y1="448.50" x2="107.00" y2="448.50" stroke="#000" stroke-width="0.8" />
<line x1="544.50" y1="448.50" x2="539.00" y2="448.50" stroke="#000" stroke-width="0.8" />
<text x="97.4" y="452.3" font-size="15" text-anchor="end">120</text>
<line x1="101.50" y1="476.50" x2="107.00" y2="476.50" stroke="#000" stroke-width="0.8" />
<line x1="544.50" y1="476.50" x2="539.00" y2="476.50" stroke="#000" stroke-width="0.8" />
<text x="97.4" y="480.2" font-size="15" text-anchor="end">140</text>
<rect x="101.50" y="281.40" width="443.00" height="216.00" fill="none" stroke="#000" stroke-width="1.25"/>
<line x1="125.50" y1="520.50" x2="125.50" y2="526.00" stroke="#000" stroke-width="0.8" />
<line x1="125.50" y1="735.50" x2="125.50" y2="730.00" stroke="#000" stroke-width="0.8" />
<line x1="247.50" y1="520.50" x2="247.50" y2="526.00" stroke="#000" stroke-width="0.8" />
<line x1="247.50" y1="735.50" x2="247.50" y2="730.00" stroke="#000" stroke-width="0.8" />
<line x1="368.50" y1="520.50" x2="368.50" y2="526.00" stroke="#000" stroke-width="0.8" />
<line x1="368.50" y1="735.50" x2="368.50" y2="730.00" stroke="#000" stroke-width="0.8" />
<line x1="490.50" y1="520.50" x2="490.50" y2="526.00" stroke="#000" stroke-width="0.8" />
<line x1="490.50" y1="735.50" x2="490.50" y2="730.00" stroke="#000" stroke-width="0.8" />
<text x="97.4" y="524.8" font-size="15" text-anchor="end">0</text>
<line x1="101.50" y1="548.50" x2="107.00" y2="548.50" stroke="#000" stroke-width="0.8" />
<line x1="544.50" y1="548.50" x2="539.00" y2="548.50" stroke="#000" stroke-width="0.8" />
<text x="97.4" y="552.5" font-size="15" text-anchor="end">20</text>
<line x1="101.50" y1="576.50" x2="107.00" y2="576.50" stroke="#000" stroke-width="0.8" />
<line x1="544.50" y1="576.50" x2="539.00" y2="576.50" stroke="#000" stroke-width="0.8" />
<text x="97.4" y="580.3" font-size="15" text-anchor="end">40</text>
<line x1="101.50" y1="603.50" x2="107.00" y2="603.50" stroke="#000" stroke-width="0.8" />
<line x1="544.50" y1="603.50" x2="539.00" y2="603.50" stroke="#000" stroke-width="0.8" />
<text x="97.4" y="608.0" font-size="15" text-anchor="end">60</text>
<line x1="101.50" y1="631.50" x2="107.00" y2="631.50" stroke="#000" stroke-width="0.8" />
<line x1="544.50" y1="631.50" x2="539.00" y2="631.50" stroke="#000" stroke-width="0.8" />
<text x="97.4" y="635.8" font-size="15" text-anchor="end">80</text>
<line x1="101.50" y1="659.50" x2="107.00" y2="659.50" stroke="#000" stroke-width="0.8" />
<line x1="544.50" y1="659.50" x2="539.00" y2="659.50" stroke="#000" stroke-width="0.8" />
<text x="97.4" y="663.5" font-size="15" text-anchor="end">100</text>
<line x1="101.50" y1="687.50" x2="107.00" y2="687.50" stroke="#000" stroke-width="0.8" />
<line x1="544.50" y1="687.50" x2="539.00" y2="687.50" stroke="#000" stroke-width="0.8" />
<text x="97.4" y="691.3" font-size="15" text-anchor="end">120</text>
<line x1="101.50" y1="714.50" x2="107.00" y2="714.50" stroke="#000" stroke-width="0.8" />
<line x1="544.50" y1="714.50" x2="539.00" y2="714.50" stroke="#000" stroke-width="0.8" />
<text x="97.4" y="719.0" font-size="15" text-anchor="end">140</text>
<rect x="101.50" y="520.50" width="443.00" height="215.00" fill="none" stroke="#000" stroke-width="1.25"/>
<text x="125.4" y="752" font-size="15" text-anchor="middle">274.72</text>
<text x="247.0" y="752" font-size="15" text-anchor="middle">274.80</text>
<text x="368.7" y="752" font-size="15" text-anchor="middle">274.88</text>
<text x="490.3" y="752" font-size="15" text-anchor="middle">274.96</text>
<text x="323" y="774" font-size="15" text-anchor="middle">dday</text>
<text x="323.5" y="36.1" font-size="18" text-anchor="middle">Ocean U (east)</text>
<text x="323.5" y="275.1" font-size="18" text-anchor="middle">Ocean V (north)</text>
<text x="323.5" y="514.2" font-size="18" text-anchor="middle">Signal Strength RSSI)</text>
<text x="34" y="17" font-size="15">EX1810 wh300</text>
<text transform="translate(60,150.2) rotate(-90)" font-size="15" text-anchor="middle">depth</text>
<text transform="translate(60,389.5) rotate(-90)" font-size="15" text-anchor="middle">depth</text>
<text transform="translate(60,628.2) rotate(-90)" font-size="15" text-anchor="middle">dep</text>
<text x="338.5" y="809" font-size="17.5" font-weight="bold" text-anchor="middle">wh300: last time 2018/10/02 23:53:59</text>
<polygon points="571.6,73.6 571.6,72.6 575.7,64.1 579.8,72.6 579.8,73.6" fill="#80002f" />
<polygon points="571.6,227.6 571.6,228.6 575.7,236.9 579.8,228.6 579.8,227.6" fill="#400078" />
<rect x="571.60" y="72.60" width="8.20" height="19.90" fill="#e4200a"/>
<rect x="571.60" y="92.10" width="8.20" height="19.90" fill="#ff7d22"/>
<rect x="571.60" y="111.60" width="8.20" height="19.90" fill="#ffc450"/>
<rect x="571.60" y="131.10" width="8.20" height="19.90" fill="#fff5c8"/>
<rect x="571.60" y="150.60" width="8.20" height="19.90" fill="#d7f0ff"/>
<rect x="571.60" y="170.10" width="8.20" height="19.90" fill="#96cdfa"/>
<rect x="571.60" y="189.60" width="8.20" height="19.90" fill="#3c6ef5"/>
<rect x="571.60" y="209.10" width="8.20" height="19.50" fill="#3200e1"/>
<polygon points="571.6,72.6 575.7,64.1 579.8,72.6 579.8,228.6 575.7,236.9 571.6,228.6" fill="none" stroke="#000" stroke-width="1.4" stroke-linejoin="miter"/>
<line x1="576.80" y1="72.60" x2="581.20" y2="72.60" stroke="#000" stroke-width="0.8" />
<text x="583.9" y="77.2" font-size="15">0.8</text>
<line x1="576.80" y1="92.10" x2="581.20" y2="92.10" stroke="#000" stroke-width="0.8" />
<text x="583.9" y="96.8" font-size="15">0.6</text>
<line x1="576.80" y1="111.60" x2="581.20" y2="111.60" stroke="#000" stroke-width="0.8" />
<text x="583.9" y="116.2" font-size="15">0.4</text>
<line x1="576.80" y1="131.10" x2="581.20" y2="131.10" stroke="#000" stroke-width="0.8" />
<text x="583.9" y="135.8" font-size="15">0.2</text>
<line x1="576.80" y1="150.60" x2="581.20" y2="150.60" stroke="#000" stroke-width="0.8" />
<text x="583.9" y="155.2" font-size="15">0.0</text>
<line x1="576.80" y1="170.10" x2="581.20" y2="170.10" stroke="#000" stroke-width="0.8" />
<text x="583.9" y="174.8" font-size="15">−0.2</text>
<line x1="576.80" y1="189.60" x2="581.20" y2="189.60" stroke="#000" stroke-width="0.8" />
<text x="583.9" y="194.2" font-size="15">−0.4</text>
<line x1="576.80" y1="209.10" x2="581.20" y2="209.10" stroke="#000" stroke-width="0.8" />
<text x="583.9" y="213.8" font-size="15">−0.6</text>
<line x1="576.80" y1="228.60" x2="581.20" y2="228.60" stroke="#000" stroke-width="0.8" />
<text x="583.9" y="233.2" font-size="15">−0.8</text>
<text transform="translate(636.2,151.6) rotate(-90)" font-size="15" text-anchor="middle">m/s</text>
<polygon points="571.6,312.2 571.6,311.2 575.7,302.7 579.8,311.2 579.8,312.2" fill="#80002f" />
<polygon points="571.6,466.2 571.6,467.2 575.7,475.5 579.8,467.2 579.8,466.2" fill="#400078" />
<rect x="571.60" y="311.20" width="8.20" height="19.90" fill="#e4200a"/>
<rect x="571.60" y="330.70" width="8.20" height="19.90" fill="#ff7d22"/>
<rect x="571.60" y="350.20" width="8.20" height="19.90" fill="#ffc450"/>
<rect x="571.60" y="369.70" width="8.20" height="19.90" fill="#fff5c8"/>
<rect x="571.60" y="389.20" width="8.20" height="19.90" fill="#d7f0ff"/>
<rect x="571.60" y="408.70" width="8.20" height="19.90" fill="#96cdfa"/>
<rect x="571.60" y="428.20" width="8.20" height="19.90" fill="#3c6ef5"/>
<rect x="571.60" y="447.70" width="8.20" height="19.50" fill="#3200e1"/>
<polygon points="571.6,311.2 575.7,302.7 579.8,311.2 579.8,467.2 575.7,475.5 571.6,467.2" fill="none" stroke="#000" stroke-width="1.4" stroke-linejoin="miter"/>
<line x1="576.80" y1="311.20" x2="581.20" y2="311.20" stroke="#000" stroke-width="0.8" />
<text x="583.9" y="315.2" font-size="15">0.8</text>
<line x1="576.80" y1="330.70" x2="581.20" y2="330.70" stroke="#000" stroke-width="0.8" />
<text x="583.9" y="334.7" font-size="15">0.6</text>
<line x1="576.80" y1="350.20" x2="581.20" y2="350.20" stroke="#000" stroke-width="0.8" />
<text x="583.9" y="354.2" font-size="15">0.4</text>
<line x1="576.80" y1="369.70" x2="581.20" y2="369.70" stroke="#000" stroke-width="0.8" />
<text x="583.9" y="373.7" font-size="15">0.2</text>
<line x1="576.80" y1="389.20" x2="581.20" y2="389.20" stroke="#000" stroke-width="0.8" />
<text x="583.9" y="393.2" font-size="15">0.0</text>
<line x1="576.80" y1="408.70" x2="581.20" y2="408.70" stroke="#000" stroke-width="0.8" />
<text x="583.9" y="412.7" font-size="15">−0.2</text>
<line x1="576.80" y1="428.20" x2="581.20" y2="428.20" stroke="#000" stroke-width="0.8" />
<text x="583.9" y="432.2" font-size="15">−0.4</text>
<line x1="576.80" y1="447.70" x2="581.20" y2="447.70" stroke="#000" stroke-width="0.8" />
<text x="583.9" y="451.7" font-size="15">−0.6</text>
<line x1="576.80" y1="467.20" x2="581.20" y2="467.20" stroke="#000" stroke-width="0.8" />
<text x="583.9" y="471.2" font-size="15">−0.8</text>
<text transform="translate(636.2,390.2) rotate(-90)" font-size="15" text-anchor="middle">m/s</text>
<defs><linearGradient id="jg" x1="0" y1="1" x2="0" y2="0">
<stop offset="0.000" stop-color="#000080"/>
<stop offset="0.025" stop-color="#00009c"/>
<stop offset="0.050" stop-color="#0000b9"/>
<stop offset="0.075" stop-color="#0000d6"/>
<stop offset="0.100" stop-color="#0000f3"/>
<stop offset="0.125" stop-color="#0000ff"/>
<stop offset="0.150" stop-color="#0019ff"/>
<stop offset="0.175" stop-color="#0033ff"/>
<stop offset="0.200" stop-color="#004dff"/>
<stop offset="0.225" stop-color="#0066ff"/>
<stop offset="0.250" stop-color="#0080ff"/>
<stop offset="0.275" stop-color="#0099ff"/>
<stop offset="0.300" stop-color="#00b2ff"/>
<stop offset="0.325" stop-color="#00ccff"/>
<stop offset="0.350" stop-color="#00e5f7"/>
<stop offset="0.375" stop-color="#15ffe2"/>
<stop offset="0.400" stop-color="#29ffce"/>
<stop offset="0.425" stop-color="#3effb9"/>
<stop offset="0.450" stop-color="#52ffa5"/>
<stop offset="0.475" stop-color="#67ff90"/>
<stop offset="0.500" stop-color="#7bff7b"/>
<stop offset="0.525" stop-color="#90ff67"/>
<stop offset="0.550" stop-color="#a5ff52"/>
<stop offset="0.575" stop-color="#b9ff3e"/>
<stop offset="0.600" stop-color="#ceff29"/>
<stop offset="0.625" stop-color="#e2ff15"/>
<stop offset="0.650" stop-color="#f7f600"/>
<stop offset="0.675" stop-color="#ffde00"/>
<stop offset="0.700" stop-color="#ffc600"/>
<stop offset="0.725" stop-color="#ffaf00"/>
<stop offset="0.750" stop-color="#ff9700"/>
<stop offset="0.775" stop-color="#ff8000"/>
<stop offset="0.800" stop-color="#ff6800"/>
<stop offset="0.825" stop-color="#ff5000"/>
<stop offset="0.850" stop-color="#ff3900"/>
<stop offset="0.875" stop-color="#ff2100"/>
<stop offset="0.900" stop-color="#f30900"/>
<stop offset="0.925" stop-color="#d60000"/>
<stop offset="0.950" stop-color="#b90000"/>
<stop offset="0.975" stop-color="#9c0000"/>
<stop offset="1.000" stop-color="#800000"/>
</linearGradient></defs>
<polygon points="572.0,531.3 572.0,530.3 576.7,519.7 581.4,530.3 581.4,531.3" fill="#800000" />
<polygon points="572.0,725.4 572.0,726.4 576.7,735.7 581.4,726.4 581.4,725.4" fill="#000080" />
<rect x="572.00" y="530.30" width="9.40" height="196.10" fill="url(#jg)"/>
<polygon points="572.0,530.3 576.7,519.7 581.4,530.3 581.4,726.4 576.7,735.7 572.0,726.4" fill="none" stroke="#000" stroke-width="1.25"/>
<line x1="577.90" y1="530.30" x2="582.80" y2="530.30" stroke="#000" stroke-width="0.8" />
<text x="585.9" y="533.7" font-size="15">160</text>
<line x1="577.90" y1="586.33" x2="582.80" y2="586.33" stroke="#000" stroke-width="0.8" />
<text x="585.9" y="589.7" font-size="15">120</text>
<line x1="577.90" y1="642.36" x2="582.80" y2="642.36" stroke="#000" stroke-width="0.8" />
<text x="585.9" y="645.8" font-size="15">80</text>
<line x1="577.90" y1="698.39" x2="582.80" y2="698.39" stroke="#000" stroke-width="0.8" />
<text x="585.9" y="701.8" font-size="15">40</text>
<text transform="translate(628.0,628.5) rotate(-90)" font-size="12.5" text-anchor="middle">RSSI counts</text>
</svg>
</body></html>
